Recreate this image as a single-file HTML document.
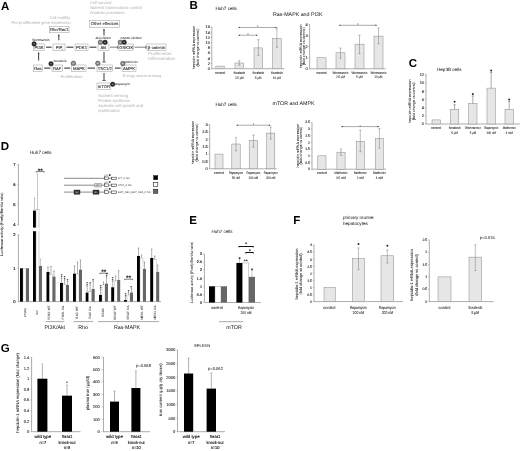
<!DOCTYPE html>
<html lang="en">
<head>
<meta charset="utf-8">
<title>Figure</title>
<style>
html,body{margin:0;padding:0;background:#fff;}
body{width:520px;height:451px;overflow:hidden;}
svg{display:block;font-family:"Liberation Sans", sans-serif;filter:blur(0.35px);}
svg text{text-rendering:geometricPrecision;}
</style>
</head>
<body>
<svg width="520" height="451" viewBox="0 0 520 451">
<rect x="0" y="0" width="520" height="451" fill="#ffffff"/>
<text x="0.9" y="10.0" font-size="11.5" text-anchor="start" fill="#000" font-weight="bold" font-style="normal">A</text>
<text x="189.6" y="9.4" font-size="11.5" text-anchor="start" fill="#000" font-weight="bold" font-style="normal">B</text>
<text x="408.8" y="66.9" font-size="11.5" text-anchor="start" fill="#000" font-weight="bold" font-style="normal">C</text>
<text x="0.8" y="149.8" font-size="11.5" text-anchor="start" fill="#000" font-weight="bold" font-style="normal">D</text>
<text x="189.3" y="224.2" font-size="11.5" text-anchor="start" fill="#000" font-weight="bold" font-style="normal">E</text>
<text x="293.2" y="224.4" font-size="11.5" text-anchor="start" fill="#000" font-weight="bold" font-style="normal">F</text>
<text x="0.8" y="352.4" font-size="11.5" text-anchor="start" fill="#000" font-weight="bold" font-style="normal">G</text>
<text x="89.9" y="3.9" font-size="4.0" text-anchor="start" fill="#b0b0b0" font-weight="normal" font-style="normal">Cell survival</text>
<text x="89.9" y="9.1" font-size="4.1" text-anchor="start" fill="#b0b0b0" font-weight="normal" font-style="normal">Nutrient homeostasis control</text>
<text x="89.9" y="14.1" font-size="4.0" text-anchor="start" fill="#b0b0b0" font-weight="normal" font-style="normal">Anabolic processes</text>
<text x="70.2" y="18.6" font-size="4.05" text-anchor="end" fill="#b0b0b0" font-weight="normal" font-style="normal">Cell motility</text>
<text x="70.8" y="23.6" font-size="4.05" text-anchor="end" fill="#b0b0b0" font-weight="normal" font-style="normal">Pro-proliferative gene expression</text>
<text x="148" y="55.2" font-size="4.4" text-anchor="start" fill="#b0b0b0" font-weight="normal" font-style="normal">Proliferation</text>
<text x="148" y="60.4" font-size="4.4" text-anchor="start" fill="#b0b0b0" font-weight="normal" font-style="normal">Differentiation</text>
<text x="60.4" y="77.5" font-size="4.15" text-anchor="start" fill="#b0b0b0" font-weight="normal" font-style="normal">Proliferation</text>
<text x="122.8" y="76.5" font-size="3.9" text-anchor="start" fill="#b0b0b0" font-weight="normal" font-style="normal">Energy status sensing</text>
<text x="98.2" y="96.5" font-size="4.15" text-anchor="start" fill="#b0b0b0" font-weight="normal" font-style="normal">Nutrient sensing</text>
<text x="98.2" y="101.7" font-size="4.15" text-anchor="start" fill="#b0b0b0" font-weight="normal" font-style="normal">Protein synthesis</text>
<text x="98.2" y="106.9" font-size="4.15" text-anchor="start" fill="#b0b0b0" font-weight="normal" font-style="normal">Anabolic cell growth and</text>
<text x="98.2" y="112.1" font-size="4.15" text-anchor="start" fill="#b0b0b0" font-weight="normal" font-style="normal">proliferation</text>
<rect x="49.40" y="26.60" width="19.60" height="6.20" fill="#fff" stroke="#8c8c8c" stroke-width="0.45"/>
<text x="59.2" y="31.212" font-size="4.2" text-anchor="middle" fill="#333" font-weight="normal" font-style="normal" stroke="#333" stroke-width="0.1">Rho/Rac1</text>
<rect x="89.70" y="20.60" width="29.80" height="6.60" fill="#fff" stroke="#8c8c8c" stroke-width="0.45"/>
<text x="104.6" y="25.412" font-size="4.2" text-anchor="middle" fill="#333" font-weight="normal" font-style="normal" stroke="#333" stroke-width="0.1">Other effectors</text>
<rect x="33.60" y="44.00" width="10.80" height="6.40" fill="#fff" stroke="#8c8c8c" stroke-width="0.45"/>
<text x="39.0" y="48.712" font-size="4.2" text-anchor="middle" fill="#333" font-weight="normal" font-style="normal" stroke="#333" stroke-width="0.1">PI3K</text>
<rect x="53.00" y="44.00" width="12.00" height="6.40" fill="#fff" stroke="#8c8c8c" stroke-width="0.45"/>
<text x="59.0" y="48.712" font-size="4.2" text-anchor="middle" fill="#333" font-weight="normal" font-style="normal" stroke="#333" stroke-width="0.1">PIP</text>
<text x="62.2" y="49.6" font-size="2.4" text-anchor="middle" fill="#444" font-weight="normal" font-style="normal">3</text>
<rect x="75.00" y="44.00" width="13.00" height="6.40" fill="#fff" stroke="#8c8c8c" stroke-width="0.45"/>
<text x="81.5" y="48.712" font-size="4.2" text-anchor="middle" fill="#333" font-weight="normal" font-style="normal" stroke="#333" stroke-width="0.1">PDK1</text>
<rect x="98.00" y="44.00" width="11.00" height="6.40" fill="#fff" stroke="#8c8c8c" stroke-width="0.45"/>
<text x="103.5" y="48.712" font-size="4.2" text-anchor="middle" fill="#333" font-weight="normal" font-style="normal" stroke="#333" stroke-width="0.1">Akt</text>
<rect x="118.80" y="44.00" width="14.80" height="6.40" fill="#fff" stroke="#8c8c8c" stroke-width="0.45"/>
<text x="126.19999999999999" y="48.712" font-size="4.2" text-anchor="middle" fill="#333" font-weight="normal" font-style="normal" stroke="#333" stroke-width="0.1">GSK3K</text>
<rect x="147.00" y="44.00" width="19.00" height="6.40" fill="#fff" stroke="#8c8c8c" stroke-width="0.45"/>
<text x="156.5" y="48.712" font-size="4.2" text-anchor="middle" fill="#333" font-weight="normal" font-style="normal" stroke="#333" stroke-width="0.1">β-catenin</text>
<rect x="33.40" y="65.00" width="9.10" height="6.20" fill="#fff" stroke="#8c8c8c" stroke-width="0.45"/>
<text x="37.95" y="69.612" font-size="4.2" text-anchor="middle" fill="#333" font-weight="normal" font-style="normal" stroke="#333" stroke-width="0.1">Ras</text>
<rect x="52.00" y="65.00" width="10.40" height="6.20" fill="#fff" stroke="#8c8c8c" stroke-width="0.45"/>
<text x="57.2" y="69.612" font-size="4.2" text-anchor="middle" fill="#333" font-weight="normal" font-style="normal" stroke="#333" stroke-width="0.1">RAF</text>
<rect x="71.70" y="65.00" width="14.30" height="6.20" fill="#fff" stroke="#8c8c8c" stroke-width="0.45"/>
<text x="78.85" y="69.612" font-size="4.2" text-anchor="middle" fill="#333" font-weight="normal" font-style="normal" stroke="#333" stroke-width="0.1">MAPK</text>
<rect x="97.00" y="65.00" width="15.60" height="6.20" fill="#fff" stroke="#8c8c8c" stroke-width="0.45"/>
<text x="104.8" y="69.612" font-size="4.2" text-anchor="middle" fill="#333" font-weight="normal" font-style="normal" stroke="#333" stroke-width="0.1">TSC1/2</text>
<rect x="122.00" y="65.00" width="14.00" height="6.20" fill="#fff" stroke="#8c8c8c" stroke-width="0.45"/>
<text x="129.0" y="69.612" font-size="4.2" text-anchor="middle" fill="#333" font-weight="normal" font-style="normal" stroke="#333" stroke-width="0.1">AMPK</text>
<rect x="97.00" y="83.00" width="13.80" height="6.20" fill="#fff" stroke="#8c8c8c" stroke-width="0.45"/>
<text x="103.9" y="87.612" font-size="4.2" text-anchor="middle" fill="#333" font-weight="normal" font-style="normal" stroke="#333" stroke-width="0.1">mTOR</text>
<line x1="46" y1="47.2" x2="51.6" y2="47.2" stroke="#4a4a4a" stroke-width="1.2"/>
<line x1="66.6" y1="47.2" x2="73.4" y2="47.2" stroke="#4a4a4a" stroke-width="1.2"/>
<line x1="89.6" y1="47.2" x2="96.4" y2="47.2" stroke="#4a4a4a" stroke-width="1.2"/>
<line x1="110" y1="47.2" x2="117.8" y2="47.2" stroke="#4a4a4a" stroke-width="0.7"/>
<line x1="117.8" y1="45.6" x2="117.8" y2="48.800000000000004" stroke="#4a4a4a" stroke-width="0.8"/>
<line x1="134.6" y1="47.2" x2="146" y2="47.2" stroke="#4a4a4a" stroke-width="0.7"/>
<line x1="146" y1="45.6" x2="146" y2="48.800000000000004" stroke="#4a4a4a" stroke-width="0.8"/>
<line x1="44.2" y1="68.1" x2="50.4" y2="68.1" stroke="#4a4a4a" stroke-width="1.2"/>
<line x1="64.2" y1="68.1" x2="70.2" y2="68.1" stroke="#4a4a4a" stroke-width="1.2"/>
<line x1="87.6" y1="68.1" x2="95" y2="68.1" stroke="#4a4a4a" stroke-width="1.2"/>
<line x1="120.6" y1="68.1" x2="115" y2="68.1" stroke="#4a4a4a" stroke-width="1.2"/>
<line x1="58.8" y1="40.2" x2="58.8" y2="34.6" stroke="#4a4a4a" stroke-width="1.1"/>
<path d="M58.8 34.6 l-1 1.6 h2 z" fill="#4a4a4a"/>
<line x1="104" y1="35.5" x2="104" y2="29" stroke="#4a4a4a" stroke-width="1.1"/>
<path d="M104 29 l-1 1.6 h2 z" fill="#4a4a4a"/>
<line x1="38.6" y1="60.6" x2="38.6" y2="52.4" stroke="#4a4a4a" stroke-width="1.1"/>
<path d="M38.6 52.4 l-1 1.6 h2 z" fill="#4a4a4a"/>
<line x1="104" y1="52" x2="104" y2="62" stroke="#4a4a4a" stroke-width="1.1"/>
<line x1="102.3" y1="62" x2="105.7" y2="62" stroke="#4a4a4a" stroke-width="0.8"/>
<line x1="104" y1="73" x2="104" y2="80.5" stroke="#4a4a4a" stroke-width="1.1"/>
<line x1="102.3" y1="80.5" x2="105.7" y2="80.5" stroke="#4a4a4a" stroke-width="0.8"/>
<circle cx="34.1" cy="43.9" r="2.3" fill="#222" stroke="#222" stroke-width="0.4"/>
<line x1="33.1" y1="43.9" x2="35.1" y2="43.9" stroke="#fff" stroke-width="0.5"/>
<circle cx="51" cy="63.8" r="2.3" fill="#222" stroke="#222" stroke-width="0.4"/>
<line x1="50" y1="63.8" x2="52" y2="63.8" stroke="#fff" stroke-width="0.5"/>
<circle cx="73.4" cy="63.3" r="2.3" fill="#888" stroke="#222" stroke-width="0.4"/>
<line x1="72.4" y1="63.3" x2="74.4" y2="63.3" stroke="#fff" stroke-width="0.5"/>
<circle cx="97.8" cy="63.3" r="2.3" fill="#888" stroke="#222" stroke-width="0.4"/>
<line x1="96.8" y1="63.3" x2="98.8" y2="63.3" stroke="#fff" stroke-width="0.5"/>
<circle cx="100.4" cy="42.3" r="2.3" fill="#888" stroke="#222" stroke-width="0.4"/>
<line x1="99.4" y1="42.3" x2="101.4" y2="42.3" stroke="#fff" stroke-width="0.5"/>
<circle cx="105.1" cy="42.3" r="2.3" fill="#222" stroke="#222" stroke-width="0.4"/>
<line x1="104.1" y1="42.3" x2="106.1" y2="42.3" stroke="#fff" stroke-width="0.5"/>
<circle cx="120.3" cy="42.3" r="2.3" fill="#888" stroke="#222" stroke-width="0.4"/>
<line x1="119.3" y1="42.3" x2="121.3" y2="42.3" stroke="#fff" stroke-width="0.5"/>
<circle cx="124.2" cy="42.3" r="2.3" fill="#222" stroke="#222" stroke-width="0.4"/>
<line x1="123.2" y1="42.3" x2="125.2" y2="42.3" stroke="#fff" stroke-width="0.5"/>
<circle cx="122.8" cy="63.6" r="2.3" fill="#888" stroke="#222" stroke-width="0.4"/>
<line x1="121.8" y1="63.6" x2="123.8" y2="63.6" stroke="#fff" stroke-width="0.5"/>
<circle cx="112.7" cy="84.3" r="2.3" fill="#222" stroke="#222" stroke-width="0.4"/>
<line x1="111.7" y1="84.3" x2="113.7" y2="84.3" stroke="#fff" stroke-width="0.5"/>
<text x="32.3" y="41.2" font-size="3.2" text-anchor="start" fill="#333" font-weight="normal" font-style="normal" stroke="#333" stroke-width="0.04">Wortmannin</text>
<text x="95.4" y="39.4" font-size="3.0" text-anchor="start" fill="#333" font-weight="normal" font-style="normal" stroke="#333" stroke-width="0.04">Akt inhibitor</text>
<text x="120.4" y="39.4" font-size="3.0" text-anchor="start" fill="#333" font-weight="normal" font-style="normal" stroke="#333" stroke-width="0.04">GSK3K inhibitor</text>
<text x="53.5" y="62.4" font-size="3.0" text-anchor="start" fill="#333" font-weight="normal" font-style="normal" stroke="#333" stroke-width="0.04">Sorafenib</text>
<text x="124.4" y="62.6" font-size="3.0" text-anchor="start" fill="#333" font-weight="normal" font-style="normal" stroke="#333" stroke-width="0.04">Metformin</text>
<text x="115.2" y="85.3" font-size="3.0" text-anchor="start" fill="#333" font-weight="normal" font-style="normal" stroke="#333" stroke-width="0.04">Rapamycin</text>
<text x="215.4" y="9.8" font-size="4.6" text-anchor="start" fill="#222" font-weight="normal" font-style="normal" stroke="#222" stroke-width="0.03">Huh7 cells</text>
<text x="273" y="16.2" font-size="5.3" text-anchor="start" fill="#222" font-weight="normal" font-style="normal" stroke="#222" stroke-width="0.02">Ras-MAPK and PI3K</text>
<text x="215.4" y="105.6" font-size="4.6" text-anchor="start" fill="#222" font-weight="normal" font-style="normal" stroke="#222" stroke-width="0.03">Huh7 cells</text>
<text x="272.5" y="105.2" font-size="5.3" text-anchor="start" fill="#222" font-weight="normal" font-style="normal" stroke="#222" stroke-width="0.02">mTOR and AMPK</text>
<line x1="211.8" y1="26.6" x2="211.8" y2="68.7" stroke="#777" stroke-width="0.6"/>
<line x1="210.60000000000002" y1="68.7" x2="211.8" y2="68.7" stroke="#777" stroke-width="0.4"/>
<text x="209.8" y="70.065" font-size="3.9" text-anchor="end" fill="#222" font-weight="normal" font-style="normal" stroke="#222" stroke-width="0.1">0</text>
<line x1="210.60000000000002" y1="63.5" x2="211.8" y2="63.5" stroke="#777" stroke-width="0.4"/>
<text x="209.8" y="64.865" font-size="3.9" text-anchor="end" fill="#222" font-weight="normal" font-style="normal" stroke="#222" stroke-width="0.1">2</text>
<line x1="210.60000000000002" y1="58.300000000000004" x2="211.8" y2="58.300000000000004" stroke="#777" stroke-width="0.4"/>
<text x="209.8" y="59.665000000000006" font-size="3.9" text-anchor="end" fill="#222" font-weight="normal" font-style="normal" stroke="#222" stroke-width="0.1">4</text>
<line x1="210.60000000000002" y1="53.1" x2="211.8" y2="53.1" stroke="#777" stroke-width="0.4"/>
<text x="209.8" y="54.465" font-size="3.9" text-anchor="end" fill="#222" font-weight="normal" font-style="normal" stroke="#222" stroke-width="0.1">6</text>
<line x1="210.60000000000002" y1="47.900000000000006" x2="211.8" y2="47.900000000000006" stroke="#777" stroke-width="0.4"/>
<text x="209.8" y="49.26500000000001" font-size="3.9" text-anchor="end" fill="#222" font-weight="normal" font-style="normal" stroke="#222" stroke-width="0.1">8</text>
<line x1="210.60000000000002" y1="42.7" x2="211.8" y2="42.7" stroke="#777" stroke-width="0.4"/>
<text x="209.8" y="44.065000000000005" font-size="3.9" text-anchor="end" fill="#222" font-weight="normal" font-style="normal" stroke="#222" stroke-width="0.1">10</text>
<line x1="210.60000000000002" y1="37.5" x2="211.8" y2="37.5" stroke="#777" stroke-width="0.4"/>
<text x="209.8" y="38.865" font-size="3.9" text-anchor="end" fill="#222" font-weight="normal" font-style="normal" stroke="#222" stroke-width="0.1">12</text>
<line x1="210.60000000000002" y1="32.300000000000004" x2="211.8" y2="32.300000000000004" stroke="#777" stroke-width="0.4"/>
<text x="209.8" y="33.665000000000006" font-size="3.9" text-anchor="end" fill="#222" font-weight="normal" font-style="normal" stroke="#222" stroke-width="0.1">14</text>
<line x1="210.60000000000002" y1="27.1" x2="211.8" y2="27.1" stroke="#777" stroke-width="0.4"/>
<text x="209.8" y="28.465" font-size="3.9" text-anchor="end" fill="#222" font-weight="normal" font-style="normal" stroke="#222" stroke-width="0.1">16</text>
<line x1="211.8" y1="68.7" x2="284.6" y2="68.7" stroke="#777" stroke-width="0.6"/>
<rect x="215.80" y="66.10" width="8.80" height="2.60" fill="#e6e6e6" stroke="#888" stroke-width="0.5"/>
<rect x="235.00" y="62.98" width="8.60" height="5.72" fill="#e6e6e6" stroke="#888" stroke-width="0.5"/>
<line x1="239.3" y1="60.7" x2="239.3" y2="65.3" stroke="#666" stroke-width="0.42"/>
<line x1="238.20000000000002" y1="60.7" x2="240.4" y2="60.7" stroke="#666" stroke-width="0.42"/>
<line x1="238.20000000000002" y1="65.3" x2="240.4" y2="65.3" stroke="#666" stroke-width="0.42"/>
<rect x="254.00" y="47.90" width="8.70" height="20.80" fill="#e6e6e6" stroke="#888" stroke-width="0.5"/>
<line x1="258.35" y1="39.7" x2="258.35" y2="55.4" stroke="#666" stroke-width="0.42"/>
<line x1="257.25" y1="39.7" x2="259.45000000000005" y2="39.7" stroke="#666" stroke-width="0.42"/>
<line x1="257.25" y1="55.4" x2="259.45000000000005" y2="55.4" stroke="#666" stroke-width="0.42"/>
<rect x="272.60" y="38.54" width="8.60" height="30.16" fill="#e6e6e6" stroke="#888" stroke-width="0.5"/>
<line x1="276.9" y1="28.8" x2="276.9" y2="47.3" stroke="#666" stroke-width="0.42"/>
<line x1="275.79999999999995" y1="28.8" x2="278.0" y2="28.8" stroke="#666" stroke-width="0.42"/>
<line x1="275.79999999999995" y1="47.3" x2="278.0" y2="47.3" stroke="#666" stroke-width="0.42"/>
<line x1="238.8" y1="27.5" x2="276.4" y2="27.5" stroke="#555" stroke-width="0.5"/>
<path d="M238.0 27.5 l1.8 -0.8 v1.6 z M277.2 27.5 l-1.8 -0.8 v1.6 z" fill="#444"/>
<text x="257.6" y="28.4" font-size="3.6" text-anchor="middle" fill="#444" font-weight="normal" font-style="normal" stroke="#444" stroke-width="0.05">*</text>
<line x1="238.8" y1="35.2" x2="257.0" y2="35.2" stroke="#555" stroke-width="0.5"/>
<path d="M238.0 35.2 l1.8 -0.8 v1.6 z M257.8 35.2 l-1.8 -0.8 v1.6 z" fill="#444"/>
<text x="247.9" y="36.1" font-size="3.6" text-anchor="middle" fill="#444" font-weight="normal" font-style="normal" stroke="#444" stroke-width="0.05">*</text>
<text x="220.2" y="74.2" font-size="3.5" text-anchor="middle" fill="#222" font-weight="normal" font-style="normal" stroke="#222" stroke-width="0.06" textLength="9.98" lengthAdjust="spacingAndGlyphs">control</text>
<text x="239.3" y="74.2" font-size="3.5" text-anchor="middle" fill="#222" font-weight="normal" font-style="normal" stroke="#222" stroke-width="0.06" textLength="11.69" lengthAdjust="spacingAndGlyphs">Sorafenib</text>
<text x="239.3" y="78.60000000000001" font-size="3.5" text-anchor="middle" fill="#222" font-weight="normal" font-style="normal" stroke="#222" stroke-width="0.06" textLength="8.83" lengthAdjust="spacingAndGlyphs">2.5 µM</text>
<text x="258.3" y="74.2" font-size="3.5" text-anchor="middle" fill="#222" font-weight="normal" font-style="normal" stroke="#222" stroke-width="0.06" textLength="11.69" lengthAdjust="spacingAndGlyphs">Sorafenib</text>
<text x="258.3" y="78.60000000000001" font-size="3.5" text-anchor="middle" fill="#222" font-weight="normal" font-style="normal" stroke="#222" stroke-width="0.06" textLength="6.44" lengthAdjust="spacingAndGlyphs">5 µM</text>
<text x="276.9" y="74.2" font-size="3.5" text-anchor="middle" fill="#222" font-weight="normal" font-style="normal" stroke="#222" stroke-width="0.06" textLength="11.69" lengthAdjust="spacingAndGlyphs">Sorafenib</text>
<text x="276.9" y="78.60000000000001" font-size="3.5" text-anchor="middle" fill="#222" font-weight="normal" font-style="normal" stroke="#222" stroke-width="0.06" textLength="8.03" lengthAdjust="spacingAndGlyphs">10 µM</text>
<text x="195.2" y="47.5" font-size="3.65" text-anchor="middle" fill="#222" font-weight="normal" font-style="normal" stroke="#222" stroke-width="0.06" transform="rotate(-90 195.2 47.5)">hepcidin mRNA expression</text>
<text x="199.4" y="47.5" font-size="3.65" text-anchor="middle" fill="#222" font-weight="normal" font-style="normal" stroke="#222" stroke-width="0.06" transform="rotate(-90 199.4 47.5)">(fold change vs control)</text>
<line x1="309.6" y1="24.2" x2="309.6" y2="68.8" stroke="#777" stroke-width="0.6"/>
<line x1="308.40000000000003" y1="68.8" x2="309.6" y2="68.8" stroke="#777" stroke-width="0.4"/>
<text x="307.6" y="70.16499999999999" font-size="3.9" text-anchor="end" fill="#222" font-weight="normal" font-style="normal" stroke="#222" stroke-width="0.1">0</text>
<line x1="308.40000000000003" y1="57.75" x2="309.6" y2="57.75" stroke="#777" stroke-width="0.4"/>
<text x="307.6" y="59.115" font-size="3.9" text-anchor="end" fill="#222" font-weight="normal" font-style="normal" stroke="#222" stroke-width="0.1">1</text>
<line x1="308.40000000000003" y1="46.699999999999996" x2="309.6" y2="46.699999999999996" stroke="#777" stroke-width="0.4"/>
<text x="307.6" y="48.065" font-size="3.9" text-anchor="end" fill="#222" font-weight="normal" font-style="normal" stroke="#222" stroke-width="0.1">2</text>
<line x1="308.40000000000003" y1="35.64999999999999" x2="309.6" y2="35.64999999999999" stroke="#777" stroke-width="0.4"/>
<text x="307.6" y="37.01499999999999" font-size="3.9" text-anchor="end" fill="#222" font-weight="normal" font-style="normal" stroke="#222" stroke-width="0.1">3</text>
<line x1="308.40000000000003" y1="24.599999999999994" x2="309.6" y2="24.599999999999994" stroke="#777" stroke-width="0.4"/>
<text x="307.6" y="25.964999999999993" font-size="3.9" text-anchor="end" fill="#222" font-weight="normal" font-style="normal" stroke="#222" stroke-width="0.1">4</text>
<line x1="309.6" y1="68.8" x2="385.6" y2="68.8" stroke="#777" stroke-width="0.6"/>
<rect x="317.00" y="57.75" width="9.00" height="11.05" fill="#e6e6e6" stroke="#888" stroke-width="0.5"/>
<rect x="336.00" y="52.78" width="9.00" height="16.02" fill="#e6e6e6" stroke="#888" stroke-width="0.5"/>
<line x1="340.5" y1="48" x2="340.5" y2="58.3" stroke="#666" stroke-width="0.42"/>
<line x1="339.4" y1="48" x2="341.6" y2="48" stroke="#666" stroke-width="0.42"/>
<line x1="339.4" y1="58.3" x2="341.6" y2="58.3" stroke="#666" stroke-width="0.42"/>
<rect x="355.00" y="44.16" width="9.00" height="24.64" fill="#e6e6e6" stroke="#888" stroke-width="0.5"/>
<line x1="359.5" y1="35.2" x2="359.5" y2="53.5" stroke="#666" stroke-width="0.42"/>
<line x1="358.4" y1="35.2" x2="360.6" y2="35.2" stroke="#666" stroke-width="0.42"/>
<line x1="358.4" y1="53.5" x2="360.6" y2="53.5" stroke="#666" stroke-width="0.42"/>
<rect x="374.00" y="36.09" width="9.00" height="32.71" fill="#e6e6e6" stroke="#888" stroke-width="0.5"/>
<line x1="378.5" y1="28" x2="378.5" y2="43.8" stroke="#666" stroke-width="0.42"/>
<line x1="377.4" y1="28" x2="379.6" y2="28" stroke="#666" stroke-width="0.42"/>
<line x1="377.4" y1="43.8" x2="379.6" y2="43.8" stroke="#666" stroke-width="0.42"/>
<line x1="339.40000000000003" y1="25.3" x2="376.4" y2="25.3" stroke="#555" stroke-width="0.5"/>
<path d="M338.6 25.3 l1.8 -0.8 v1.6 z M377.2 25.3 l-1.8 -0.8 v1.6 z" fill="#444"/>
<text x="357.9" y="26.2" font-size="3.6" text-anchor="middle" fill="#444" font-weight="normal" font-style="normal" stroke="#444" stroke-width="0.05">*</text>
<text x="321.5" y="74.0" font-size="3.5" text-anchor="middle" fill="#222" font-weight="normal" font-style="normal" stroke="#222" stroke-width="0.06" textLength="9.98" lengthAdjust="spacingAndGlyphs">control</text>
<text x="340.5" y="74.0" font-size="3.5" text-anchor="middle" fill="#222" font-weight="normal" font-style="normal" stroke="#222" stroke-width="0.06" textLength="15.80" lengthAdjust="spacingAndGlyphs">Wortmannin</text>
<text x="340.5" y="78.4" font-size="3.5" text-anchor="middle" fill="#222" font-weight="normal" font-style="normal" stroke="#222" stroke-width="0.06" textLength="8.83" lengthAdjust="spacingAndGlyphs">2.5 µM</text>
<text x="359.5" y="74.0" font-size="3.5" text-anchor="middle" fill="#222" font-weight="normal" font-style="normal" stroke="#222" stroke-width="0.06" textLength="15.80" lengthAdjust="spacingAndGlyphs">Wortmannin</text>
<text x="359.5" y="78.4" font-size="3.5" text-anchor="middle" fill="#222" font-weight="normal" font-style="normal" stroke="#222" stroke-width="0.06" textLength="6.44" lengthAdjust="spacingAndGlyphs">5 µM</text>
<text x="378.5" y="74.0" font-size="3.5" text-anchor="middle" fill="#222" font-weight="normal" font-style="normal" stroke="#222" stroke-width="0.06" textLength="15.80" lengthAdjust="spacingAndGlyphs">Wortmannin</text>
<text x="378.5" y="78.4" font-size="3.5" text-anchor="middle" fill="#222" font-weight="normal" font-style="normal" stroke="#222" stroke-width="0.06" textLength="8.03" lengthAdjust="spacingAndGlyphs">10 µM</text>
<text x="301.8" y="46.3" font-size="3.65" text-anchor="middle" fill="#222" font-weight="normal" font-style="normal" stroke="#222" stroke-width="0.06" transform="rotate(-90 301.8 46.3)">hepcidin mRNA expression</text>
<text x="305.2" y="46.3" font-size="3.65" text-anchor="middle" fill="#222" font-weight="normal" font-style="normal" stroke="#222" stroke-width="0.06" transform="rotate(-90 305.2 46.3)">(fold change vs control)</text>
<line x1="209.7" y1="124.3" x2="209.7" y2="168.8" stroke="#777" stroke-width="0.6"/>
<line x1="208.5" y1="168.8" x2="209.7" y2="168.8" stroke="#777" stroke-width="0.4"/>
<text x="207.7" y="170.16500000000002" font-size="3.9" text-anchor="end" fill="#222" font-weight="normal" font-style="normal" stroke="#222" stroke-width="0.1">0</text>
<line x1="208.5" y1="161.425" x2="209.7" y2="161.425" stroke="#777" stroke-width="0.4"/>
<text x="207.7" y="162.79000000000002" font-size="3.9" text-anchor="end" fill="#222" font-weight="normal" font-style="normal" stroke="#222" stroke-width="0.1">0.5</text>
<line x1="208.5" y1="154.05" x2="209.7" y2="154.05" stroke="#777" stroke-width="0.4"/>
<text x="207.7" y="155.41500000000002" font-size="3.9" text-anchor="end" fill="#222" font-weight="normal" font-style="normal" stroke="#222" stroke-width="0.1">1</text>
<line x1="208.5" y1="146.675" x2="209.7" y2="146.675" stroke="#777" stroke-width="0.4"/>
<text x="207.7" y="148.04000000000002" font-size="3.9" text-anchor="end" fill="#222" font-weight="normal" font-style="normal" stroke="#222" stroke-width="0.1">1.5</text>
<line x1="208.5" y1="139.3" x2="209.7" y2="139.3" stroke="#777" stroke-width="0.4"/>
<text x="207.7" y="140.66500000000002" font-size="3.9" text-anchor="end" fill="#222" font-weight="normal" font-style="normal" stroke="#222" stroke-width="0.1">2</text>
<line x1="208.5" y1="131.925" x2="209.7" y2="131.925" stroke="#777" stroke-width="0.4"/>
<text x="207.7" y="133.29000000000002" font-size="3.9" text-anchor="end" fill="#222" font-weight="normal" font-style="normal" stroke="#222" stroke-width="0.1">2.5</text>
<line x1="208.5" y1="124.55000000000001" x2="209.7" y2="124.55000000000001" stroke="#777" stroke-width="0.4"/>
<text x="207.7" y="125.915" font-size="3.9" text-anchor="end" fill="#222" font-weight="normal" font-style="normal" stroke="#222" stroke-width="0.1">3</text>
<line x1="209.7" y1="168.8" x2="276.7" y2="168.8" stroke="#777" stroke-width="0.6"/>
<rect x="215.00" y="154.05" width="8.00" height="14.75" fill="#e6e6e6" stroke="#888" stroke-width="0.5"/>
<rect x="231.80" y="144.02" width="8.40" height="24.78" fill="#e6e6e6" stroke="#888" stroke-width="0.5"/>
<line x1="236.0" y1="137.7" x2="236.0" y2="150.8" stroke="#666" stroke-width="0.42"/>
<line x1="234.9" y1="137.7" x2="237.1" y2="137.7" stroke="#666" stroke-width="0.42"/>
<line x1="234.9" y1="150.8" x2="237.1" y2="150.8" stroke="#666" stroke-width="0.42"/>
<rect x="249.20" y="140.48" width="8.50" height="28.32" fill="#e6e6e6" stroke="#888" stroke-width="0.5"/>
<line x1="253.45" y1="135" x2="253.45" y2="147" stroke="#666" stroke-width="0.42"/>
<line x1="252.35" y1="135" x2="254.54999999999998" y2="135" stroke="#666" stroke-width="0.42"/>
<line x1="252.35" y1="147" x2="254.54999999999998" y2="147" stroke="#666" stroke-width="0.42"/>
<rect x="266.60" y="133.11" width="8.20" height="35.69" fill="#e6e6e6" stroke="#888" stroke-width="0.5"/>
<line x1="270.70000000000005" y1="127" x2="270.70000000000005" y2="139" stroke="#666" stroke-width="0.42"/>
<line x1="269.6" y1="127" x2="271.80000000000007" y2="127" stroke="#666" stroke-width="0.42"/>
<line x1="269.6" y1="139" x2="271.80000000000007" y2="139" stroke="#666" stroke-width="0.42"/>
<line x1="236.8" y1="125.2" x2="269.9" y2="125.2" stroke="#555" stroke-width="0.5"/>
<path d="M236 125.2 l1.8 -0.8 v1.6 z M270.7 125.2 l-1.8 -0.8 v1.6 z" fill="#444"/>
<text x="253.35" y="126.10000000000001" font-size="3.6" text-anchor="middle" fill="#444" font-weight="normal" font-style="normal" stroke="#444" stroke-width="0.05">*</text>
<text x="219" y="174.2" font-size="3.5" text-anchor="middle" fill="#222" font-weight="normal" font-style="normal" stroke="#222" stroke-width="0.06" textLength="9.98" lengthAdjust="spacingAndGlyphs">control</text>
<text x="236" y="174.2" font-size="3.5" text-anchor="middle" fill="#222" font-weight="normal" font-style="normal" stroke="#222" stroke-width="0.06" textLength="14.01" lengthAdjust="spacingAndGlyphs">Rapamycin</text>
<text x="236" y="178.6" font-size="3.5" text-anchor="middle" fill="#222" font-weight="normal" font-style="normal" stroke="#222" stroke-width="0.06" textLength="7.98" lengthAdjust="spacingAndGlyphs">50 nM</text>
<text x="253.4" y="174.2" font-size="3.5" text-anchor="middle" fill="#222" font-weight="normal" font-style="normal" stroke="#222" stroke-width="0.06" textLength="14.01" lengthAdjust="spacingAndGlyphs">Rapamycin</text>
<text x="253.4" y="178.6" font-size="3.5" text-anchor="middle" fill="#222" font-weight="normal" font-style="normal" stroke="#222" stroke-width="0.06" textLength="9.57" lengthAdjust="spacingAndGlyphs">100 nM</text>
<text x="270.7" y="174.2" font-size="3.5" text-anchor="middle" fill="#222" font-weight="normal" font-style="normal" stroke="#222" stroke-width="0.06" textLength="14.01" lengthAdjust="spacingAndGlyphs">Rapamycin</text>
<text x="270.7" y="178.6" font-size="3.5" text-anchor="middle" fill="#222" font-weight="normal" font-style="normal" stroke="#222" stroke-width="0.06" textLength="9.57" lengthAdjust="spacingAndGlyphs">200 nM</text>
<text x="194" y="142.5" font-size="3.65" text-anchor="middle" fill="#222" font-weight="normal" font-style="normal" stroke="#222" stroke-width="0.06" transform="rotate(-90 194 142.5)">hepcidin mRNA expression</text>
<text x="197.6" y="142.5" font-size="3.65" text-anchor="middle" fill="#222" font-weight="normal" font-style="normal" stroke="#222" stroke-width="0.06" transform="rotate(-90 197.6 142.5)">(fold change vs control)</text>
<line x1="312" y1="122.2" x2="312" y2="169.2" stroke="#777" stroke-width="0.6"/>
<line x1="310.8" y1="169.2" x2="312" y2="169.2" stroke="#777" stroke-width="0.4"/>
<text x="310.0" y="170.39" font-size="3.4" text-anchor="end" fill="#222" font-weight="normal" font-style="normal" stroke="#222" stroke-width="0.1">0</text>
<line x1="310.8" y1="162.5" x2="312" y2="162.5" stroke="#777" stroke-width="0.4"/>
<text x="310.0" y="163.69" font-size="3.4" text-anchor="end" fill="#222" font-weight="normal" font-style="normal" stroke="#222" stroke-width="0.1">0.5</text>
<line x1="310.8" y1="155.79999999999998" x2="312" y2="155.79999999999998" stroke="#777" stroke-width="0.4"/>
<text x="310.0" y="156.98999999999998" font-size="3.4" text-anchor="end" fill="#222" font-weight="normal" font-style="normal" stroke="#222" stroke-width="0.1">1</text>
<line x1="310.8" y1="149.1" x2="312" y2="149.1" stroke="#777" stroke-width="0.4"/>
<text x="310.0" y="150.29" font-size="3.4" text-anchor="end" fill="#222" font-weight="normal" font-style="normal" stroke="#222" stroke-width="0.1">1.5</text>
<line x1="310.8" y1="142.39999999999998" x2="312" y2="142.39999999999998" stroke="#777" stroke-width="0.4"/>
<text x="310.0" y="143.58999999999997" font-size="3.4" text-anchor="end" fill="#222" font-weight="normal" font-style="normal" stroke="#222" stroke-width="0.1">2</text>
<line x1="310.8" y1="135.7" x2="312" y2="135.7" stroke="#777" stroke-width="0.4"/>
<text x="310.0" y="136.89" font-size="3.4" text-anchor="end" fill="#222" font-weight="normal" font-style="normal" stroke="#222" stroke-width="0.1">2.5</text>
<line x1="310.8" y1="129.0" x2="312" y2="129.0" stroke="#777" stroke-width="0.4"/>
<text x="310.0" y="130.19" font-size="3.4" text-anchor="end" fill="#222" font-weight="normal" font-style="normal" stroke="#222" stroke-width="0.1">3</text>
<line x1="310.8" y1="122.29999999999998" x2="312" y2="122.29999999999998" stroke="#777" stroke-width="0.4"/>
<text x="310.0" y="123.48999999999998" font-size="3.4" text-anchor="end" fill="#222" font-weight="normal" font-style="normal" stroke="#222" stroke-width="0.1">3.5</text>
<line x1="312" y1="169.2" x2="386" y2="169.2" stroke="#777" stroke-width="0.6"/>
<rect x="317.80" y="155.80" width="8.20" height="13.40" fill="#e6e6e6" stroke="#888" stroke-width="0.5"/>
<rect x="336.90" y="152.18" width="8.20" height="17.02" fill="#e6e6e6" stroke="#888" stroke-width="0.5"/>
<line x1="341.0" y1="149" x2="341.0" y2="155.4" stroke="#666" stroke-width="0.42"/>
<line x1="339.9" y1="149" x2="342.1" y2="149" stroke="#666" stroke-width="0.42"/>
<line x1="339.9" y1="155.4" x2="342.1" y2="155.4" stroke="#666" stroke-width="0.42"/>
<rect x="356.20" y="141.33" width="8.20" height="27.87" fill="#e6e6e6" stroke="#888" stroke-width="0.5"/>
<line x1="360.29999999999995" y1="130.2" x2="360.29999999999995" y2="151.8" stroke="#666" stroke-width="0.42"/>
<line x1="359.19999999999993" y1="130.2" x2="361.4" y2="130.2" stroke="#666" stroke-width="0.42"/>
<line x1="359.19999999999993" y1="151.8" x2="361.4" y2="151.8" stroke="#666" stroke-width="0.42"/>
<rect x="375.30" y="138.51" width="8.20" height="30.69" fill="#e6e6e6" stroke="#888" stroke-width="0.5"/>
<line x1="379.4" y1="128.6" x2="379.4" y2="148.2" stroke="#666" stroke-width="0.42"/>
<line x1="378.29999999999995" y1="128.6" x2="380.5" y2="128.6" stroke="#666" stroke-width="0.42"/>
<line x1="378.29999999999995" y1="148.2" x2="380.5" y2="148.2" stroke="#666" stroke-width="0.42"/>
<line x1="341.8" y1="126.6" x2="378.59999999999997" y2="126.6" stroke="#555" stroke-width="0.5"/>
<path d="M341 126.6 l1.8 -0.8 v1.6 z M379.4 126.6 l-1.8 -0.8 v1.6 z" fill="#444"/>
<text x="360.2" y="127.5" font-size="3.6" text-anchor="middle" fill="#444" font-weight="normal" font-style="normal" stroke="#444" stroke-width="0.05">*</text>
<text x="322" y="174.4" font-size="3.5" text-anchor="middle" fill="#222" font-weight="normal" font-style="normal" stroke="#222" stroke-width="0.06" textLength="9.98" lengthAdjust="spacingAndGlyphs">control</text>
<text x="341" y="174.4" font-size="3.5" text-anchor="middle" fill="#222" font-weight="normal" font-style="normal" stroke="#222" stroke-width="0.06" textLength="12.76" lengthAdjust="spacingAndGlyphs">Metformin</text>
<text x="341" y="178.8" font-size="3.5" text-anchor="middle" fill="#222" font-weight="normal" font-style="normal" stroke="#222" stroke-width="0.06" textLength="9.57" lengthAdjust="spacingAndGlyphs">0.5 mM</text>
<text x="360.3" y="174.4" font-size="3.5" text-anchor="middle" fill="#222" font-weight="normal" font-style="normal" stroke="#222" stroke-width="0.06" textLength="12.76" lengthAdjust="spacingAndGlyphs">Metformin</text>
<text x="360.3" y="178.8" font-size="3.5" text-anchor="middle" fill="#222" font-weight="normal" font-style="normal" stroke="#222" stroke-width="0.06" textLength="7.18" lengthAdjust="spacingAndGlyphs">2 mM</text>
<text x="379.4" y="174.4" font-size="3.5" text-anchor="middle" fill="#222" font-weight="normal" font-style="normal" stroke="#222" stroke-width="0.06" textLength="12.76" lengthAdjust="spacingAndGlyphs">Metformin</text>
<text x="379.4" y="178.8" font-size="3.5" text-anchor="middle" fill="#222" font-weight="normal" font-style="normal" stroke="#222" stroke-width="0.06" textLength="7.18" lengthAdjust="spacingAndGlyphs">4 mM</text>
<text x="298.6" y="145.6" font-size="3.65" text-anchor="middle" fill="#222" font-weight="normal" font-style="normal" stroke="#222" stroke-width="0.06" transform="rotate(-90 298.6 145.6)">hepcidin mRNA expression</text>
<text x="302.2" y="145.6" font-size="3.65" text-anchor="middle" fill="#222" font-weight="normal" font-style="normal" stroke="#222" stroke-width="0.06" transform="rotate(-90 302.2 145.6)">(fold change vs control)</text>
<text x="437" y="71.2" font-size="4.6" text-anchor="start" fill="#222" font-weight="normal" font-style="normal" stroke="#222" stroke-width="0.03">Hep3B cells</text>
<line x1="426" y1="73.8" x2="426" y2="124" stroke="#777" stroke-width="0.6"/>
<line x1="424.8" y1="124.0" x2="426" y2="124.0" stroke="#777" stroke-width="0.4"/>
<text x="424.0" y="125.365" font-size="3.9" text-anchor="end" fill="#222" font-weight="normal" font-style="normal" stroke="#222" stroke-width="0.1">0</text>
<line x1="424.8" y1="115.8" x2="426" y2="115.8" stroke="#777" stroke-width="0.4"/>
<text x="424.0" y="117.16499999999999" font-size="3.9" text-anchor="end" fill="#222" font-weight="normal" font-style="normal" stroke="#222" stroke-width="0.1">2</text>
<line x1="424.8" y1="107.6" x2="426" y2="107.6" stroke="#777" stroke-width="0.4"/>
<text x="424.0" y="108.96499999999999" font-size="3.9" text-anchor="end" fill="#222" font-weight="normal" font-style="normal" stroke="#222" stroke-width="0.1">4</text>
<line x1="424.8" y1="99.4" x2="426" y2="99.4" stroke="#777" stroke-width="0.4"/>
<text x="424.0" y="100.765" font-size="3.9" text-anchor="end" fill="#222" font-weight="normal" font-style="normal" stroke="#222" stroke-width="0.1">6</text>
<line x1="424.8" y1="91.2" x2="426" y2="91.2" stroke="#777" stroke-width="0.4"/>
<text x="424.0" y="92.565" font-size="3.9" text-anchor="end" fill="#222" font-weight="normal" font-style="normal" stroke="#222" stroke-width="0.1">8</text>
<line x1="424.8" y1="83.0" x2="426" y2="83.0" stroke="#777" stroke-width="0.4"/>
<text x="424.0" y="84.365" font-size="3.9" text-anchor="end" fill="#222" font-weight="normal" font-style="normal" stroke="#222" stroke-width="0.1">10</text>
<line x1="424.8" y1="74.80000000000001" x2="426" y2="74.80000000000001" stroke="#777" stroke-width="0.4"/>
<text x="424.0" y="76.165" font-size="3.9" text-anchor="end" fill="#222" font-weight="normal" font-style="normal" stroke="#222" stroke-width="0.1">12</text>
<line x1="426" y1="124" x2="520" y2="124" stroke="#777" stroke-width="0.6"/>
<rect x="432.00" y="119.90" width="8.40" height="4.10" fill="#e6e6e6" stroke="#888" stroke-width="0.5"/>
<rect x="450.40" y="109.24" width="8.40" height="14.76" fill="#e6e6e6" stroke="#888" stroke-width="0.5"/>
<line x1="454.6" y1="104.8" x2="454.6" y2="109.24" stroke="#555" stroke-width="0.5"/>
<line x1="453.40000000000003" y1="104.8" x2="455.8" y2="104.8" stroke="#555" stroke-width="0.5"/>
<circle cx="454.6" cy="101.69999999999999" r="0.95" fill="#222"/>
<rect x="468.70" y="103.70" width="8.30" height="20.30" fill="#e6e6e6" stroke="#888" stroke-width="0.5"/>
<line x1="472.85" y1="95.9" x2="472.85" y2="103.705" stroke="#555" stroke-width="0.5"/>
<line x1="471.65000000000003" y1="95.9" x2="474.05" y2="95.9" stroke="#555" stroke-width="0.5"/>
<circle cx="472.85" cy="94.0" r="0.95" fill="#222"/>
<rect x="487.00" y="88.12" width="8.30" height="35.88" fill="#e6e6e6" stroke="#888" stroke-width="0.5"/>
<line x1="491.15" y1="72.3" x2="491.15" y2="88.125" stroke="#555" stroke-width="0.5"/>
<line x1="489.95" y1="72.3" x2="492.34999999999997" y2="72.3" stroke="#555" stroke-width="0.5"/>
<circle cx="491.15" cy="70.5" r="0.95" fill="#222"/>
<rect x="505.00" y="109.24" width="8.40" height="14.76" fill="#e6e6e6" stroke="#888" stroke-width="0.5"/>
<line x1="509.2" y1="101.5" x2="509.2" y2="109.24" stroke="#555" stroke-width="0.5"/>
<line x1="508.0" y1="101.5" x2="510.4" y2="101.5" stroke="#555" stroke-width="0.5"/>
<circle cx="509.2" cy="99.5" r="0.95" fill="#222"/>
<text x="436.2" y="129.4" font-size="3.5" text-anchor="middle" fill="#222" font-weight="normal" font-style="normal" stroke="#222" stroke-width="0.06" textLength="9.98" lengthAdjust="spacingAndGlyphs">control</text>
<text x="454.6" y="129.4" font-size="3.5" text-anchor="middle" fill="#222" font-weight="normal" font-style="normal" stroke="#222" stroke-width="0.06" textLength="11.69" lengthAdjust="spacingAndGlyphs">Sorafenib</text>
<text x="454.6" y="133.8" font-size="3.5" text-anchor="middle" fill="#222" font-weight="normal" font-style="normal" stroke="#222" stroke-width="0.06" textLength="6.44" lengthAdjust="spacingAndGlyphs">5 µM</text>
<text x="472.9" y="129.4" font-size="3.5" text-anchor="middle" fill="#222" font-weight="normal" font-style="normal" stroke="#222" stroke-width="0.06" textLength="15.80" lengthAdjust="spacingAndGlyphs">Wortmannin</text>
<text x="472.9" y="133.8" font-size="3.5" text-anchor="middle" fill="#222" font-weight="normal" font-style="normal" stroke="#222" stroke-width="0.06" textLength="6.44" lengthAdjust="spacingAndGlyphs">5 µM</text>
<text x="491.2" y="129.4" font-size="3.5" text-anchor="middle" fill="#222" font-weight="normal" font-style="normal" stroke="#222" stroke-width="0.06" textLength="14.01" lengthAdjust="spacingAndGlyphs">Rapamycin</text>
<text x="491.2" y="133.8" font-size="3.5" text-anchor="middle" fill="#222" font-weight="normal" font-style="normal" stroke="#222" stroke-width="0.06" textLength="9.57" lengthAdjust="spacingAndGlyphs">100 nM</text>
<text x="509.2" y="129.4" font-size="3.5" text-anchor="middle" fill="#222" font-weight="normal" font-style="normal" stroke="#222" stroke-width="0.06" textLength="12.76" lengthAdjust="spacingAndGlyphs">Metformin</text>
<text x="509.2" y="133.8" font-size="3.5" text-anchor="middle" fill="#222" font-weight="normal" font-style="normal" stroke="#222" stroke-width="0.06" textLength="7.18" lengthAdjust="spacingAndGlyphs">4 mM</text>
<text x="411.2" y="101.2" font-size="3.65" text-anchor="middle" fill="#222" font-weight="normal" font-style="normal" stroke="#222" stroke-width="0.06" transform="rotate(-90 411.2 101.2)">hepcidin mRNA expression</text>
<text x="414.8" y="101.2" font-size="3.65" text-anchor="middle" fill="#222" font-weight="normal" font-style="normal" stroke="#222" stroke-width="0.06" transform="rotate(-90 414.8 101.2)">(fold change vs control)</text>
<text x="30" y="153.6" font-size="4.6" text-anchor="start" fill="#222" font-weight="normal" font-style="normal" stroke="#222" stroke-width="0.03">Huh7 cells</text>
<line x1="18.4" y1="164" x2="18.4" y2="301.6" stroke="#888" stroke-width="0.7"/>
<line x1="17.2" y1="164.4" x2="18.4" y2="164.4" stroke="#888" stroke-width="0.4"/>
<text x="15.6" y="165.8" font-size="4.1" text-anchor="end" fill="#111" font-weight="normal" font-style="normal" stroke="#111" stroke-width="0.16">7</text>
<line x1="17.2" y1="184.4" x2="18.4" y2="184.4" stroke="#888" stroke-width="0.4"/>
<text x="15.6" y="185.8" font-size="4.1" text-anchor="end" fill="#111" font-weight="normal" font-style="normal" stroke="#111" stroke-width="0.16">6</text>
<line x1="17.2" y1="204.4" x2="18.4" y2="204.4" stroke="#888" stroke-width="0.4"/>
<text x="15.6" y="205.8" font-size="4.1" text-anchor="end" fill="#111" font-weight="normal" font-style="normal" stroke="#111" stroke-width="0.16">5</text>
<line x1="17.2" y1="224.4" x2="18.4" y2="224.4" stroke="#888" stroke-width="0.4"/>
<text x="15.6" y="225.8" font-size="4.1" text-anchor="end" fill="#111" font-weight="normal" font-style="normal" stroke="#111" stroke-width="0.16">4</text>
<line x1="17.2" y1="235" x2="18.4" y2="235" stroke="#888" stroke-width="0.4"/>
<text x="15.6" y="236.4" font-size="4.1" text-anchor="end" fill="#111" font-weight="normal" font-style="normal" stroke="#111" stroke-width="0.16">2</text>
<line x1="17.2" y1="268.3" x2="18.4" y2="268.3" stroke="#888" stroke-width="0.4"/>
<text x="15.6" y="269.7" font-size="4.1" text-anchor="end" fill="#111" font-weight="normal" font-style="normal" stroke="#111" stroke-width="0.16">1</text>
<line x1="17.2" y1="301.6" x2="18.4" y2="301.6" stroke="#888" stroke-width="0.4"/>
<text x="15.6" y="303.0" font-size="4.1" text-anchor="end" fill="#111" font-weight="normal" font-style="normal" stroke="#111" stroke-width="0.16">0</text>
<line x1="18.4" y1="301.6" x2="161" y2="301.6" stroke="#888" stroke-width="0.7"/>
<rect x="17.00" y="225.60" width="3.00" height="8.60" fill="#fff" stroke="none" stroke-width="0.5"/>
<text x="3.4" y="224.3" font-size="3.7" text-anchor="middle" fill="#222" font-weight="normal" font-style="normal" stroke="#222" stroke-width="0.06" transform="rotate(-90 3.4 224.3)">Luciferase activity (Firefly/Renilla ratio)</text>
<rect x="20.00" y="268.30" width="3.00" height="33.30" fill="#000" stroke="none" stroke-width="0.5"/>
<rect x="23.00" y="268.30" width="3.00" height="33.30" fill="#fff" stroke="#999" stroke-width="0.35"/>
<rect x="26.00" y="268.30" width="3.00" height="33.30" fill="#666" stroke="none" stroke-width="0.5"/>
<rect x="33.00" y="210.60" width="3.00" height="91.00" fill="#000" stroke="none" stroke-width="0.5"/>
<rect x="36.00" y="209.60" width="3.00" height="92.00" fill="#fff" stroke="#888" stroke-width="0.4"/>
<rect x="32.50" y="227.60" width="7.00" height="3.60" fill="#fff" stroke="none" stroke-width="0.5"/>
<line x1="34.5" y1="198" x2="34.5" y2="210.6" stroke="#777" stroke-width="0.4"/>
<line x1="33.7" y1="198" x2="35.3" y2="198" stroke="#777" stroke-width="0.4"/>
<line x1="37.5" y1="174" x2="37.5" y2="209.6" stroke="#777" stroke-width="0.4"/>
<line x1="36.7" y1="174" x2="38.3" y2="174" stroke="#777" stroke-width="0.4"/>
<rect x="39.00" y="265.97" width="3.00" height="35.63" fill="#666" stroke="none" stroke-width="0.5"/>
<line x1="40.5" y1="259" x2="40.5" y2="265.96900000000005" stroke="#777" stroke-width="0.4"/>
<line x1="39.7" y1="259" x2="41.3" y2="259" stroke="#777" stroke-width="0.4"/>
<path d="M36.2 172.6 v-1 h8 v1" fill="none" stroke="#222" stroke-width="0.6"/>
<text x="40.2" y="172.6" font-size="6.6" text-anchor="middle" fill="#111" font-weight="bold" font-style="normal">**</text>
<rect x="46.50" y="271.96" width="3.00" height="29.64" fill="#000" stroke="none" stroke-width="0.5"/>
<line x1="48.0" y1="267" x2="48.0" y2="271.963" stroke="#555" stroke-width="0.45"/>
<line x1="47.2" y1="267" x2="48.8" y2="267" stroke="#555" stroke-width="0.45"/>
<rect x="49.50" y="274.29" width="3.00" height="27.31" fill="#fff" stroke="#999" stroke-width="0.35"/>
<line x1="51.0" y1="266.5" x2="51.0" y2="274.29400000000004" stroke="#555" stroke-width="0.45"/>
<line x1="50.2" y1="266.5" x2="51.8" y2="266.5" stroke="#555" stroke-width="0.45"/>
<rect x="52.50" y="276.62" width="3.00" height="24.98" fill="#666" stroke="none" stroke-width="0.5"/>
<line x1="54.0" y1="271" x2="54.0" y2="276.625" stroke="#555" stroke-width="0.45"/>
<line x1="53.2" y1="271" x2="54.8" y2="271" stroke="#555" stroke-width="0.45"/>
<rect x="60.00" y="282.95" width="3.00" height="18.65" fill="#000" stroke="none" stroke-width="0.5"/>
<line x1="61.5" y1="278.5" x2="61.5" y2="282.952" stroke="#555" stroke-width="0.45"/>
<line x1="60.7" y1="278.5" x2="62.3" y2="278.5" stroke="#555" stroke-width="0.45"/>
<rect x="63.00" y="284.28" width="3.00" height="17.32" fill="#fff" stroke="#999" stroke-width="0.35"/>
<line x1="64.5" y1="280" x2="64.5" y2="284.28400000000005" stroke="#555" stroke-width="0.45"/>
<line x1="63.7" y1="280" x2="65.3" y2="280" stroke="#555" stroke-width="0.45"/>
<rect x="66.00" y="284.95" width="3.00" height="16.65" fill="#666" stroke="none" stroke-width="0.5"/>
<line x1="67.5" y1="281.5" x2="67.5" y2="284.95000000000005" stroke="#555" stroke-width="0.45"/>
<line x1="66.7" y1="281.5" x2="68.3" y2="281.5" stroke="#555" stroke-width="0.45"/>
<rect x="73.00" y="273.63" width="3.00" height="27.97" fill="#000" stroke="none" stroke-width="0.5"/>
<line x1="74.5" y1="266" x2="74.5" y2="273.62800000000004" stroke="#555" stroke-width="0.45"/>
<line x1="73.7" y1="266" x2="75.3" y2="266" stroke="#555" stroke-width="0.45"/>
<rect x="76.00" y="273.96" width="3.00" height="27.64" fill="#fff" stroke="#999" stroke-width="0.35"/>
<line x1="77.5" y1="262" x2="77.5" y2="273.961" stroke="#555" stroke-width="0.45"/>
<line x1="76.7" y1="262" x2="78.3" y2="262" stroke="#555" stroke-width="0.45"/>
<rect x="79.00" y="269.63" width="3.00" height="31.97" fill="#666" stroke="none" stroke-width="0.5"/>
<line x1="80.5" y1="260" x2="80.5" y2="269.632" stroke="#555" stroke-width="0.45"/>
<line x1="79.7" y1="260" x2="81.3" y2="260" stroke="#555" stroke-width="0.45"/>
<rect x="85.70" y="292.61" width="3.00" height="8.99" fill="#000" stroke="none" stroke-width="0.5"/>
<line x1="87.2" y1="286" x2="87.2" y2="292.60900000000004" stroke="#555" stroke-width="0.45"/>
<line x1="86.4" y1="286" x2="88.0" y2="286" stroke="#555" stroke-width="0.45"/>
<rect x="88.70" y="291.61" width="3.00" height="9.99" fill="#fff" stroke="#999" stroke-width="0.35"/>
<line x1="90.2" y1="284" x2="90.2" y2="291.61" stroke="#555" stroke-width="0.45"/>
<line x1="89.4" y1="284" x2="91.0" y2="284" stroke="#555" stroke-width="0.45"/>
<rect x="91.70" y="288.95" width="3.00" height="12.65" fill="#666" stroke="none" stroke-width="0.5"/>
<line x1="93.2" y1="281" x2="93.2" y2="288.946" stroke="#555" stroke-width="0.45"/>
<line x1="92.4" y1="281" x2="94.0" y2="281" stroke="#555" stroke-width="0.45"/>
<rect x="99.00" y="294.94" width="3.00" height="6.66" fill="#000" stroke="none" stroke-width="0.5"/>
<line x1="100.5" y1="289" x2="100.5" y2="294.94" stroke="#555" stroke-width="0.45"/>
<line x1="99.7" y1="289" x2="101.3" y2="289" stroke="#555" stroke-width="0.45"/>
<rect x="102.00" y="284.95" width="3.00" height="16.65" fill="#fff" stroke="#999" stroke-width="0.35"/>
<line x1="103.5" y1="282" x2="103.5" y2="284.95000000000005" stroke="#555" stroke-width="0.45"/>
<line x1="102.7" y1="282" x2="104.3" y2="282" stroke="#555" stroke-width="0.45"/>
<rect x="105.00" y="283.62" width="3.00" height="17.98" fill="#666" stroke="none" stroke-width="0.5"/>
<line x1="106.5" y1="277" x2="106.5" y2="283.61800000000005" stroke="#555" stroke-width="0.45"/>
<line x1="105.7" y1="277" x2="107.3" y2="277" stroke="#555" stroke-width="0.45"/>
<rect x="111.20" y="287.28" width="3.00" height="14.32" fill="#000" stroke="none" stroke-width="0.5"/>
<line x1="112.7" y1="281" x2="112.7" y2="287.281" stroke="#555" stroke-width="0.45"/>
<line x1="111.9" y1="281" x2="113.5" y2="281" stroke="#555" stroke-width="0.45"/>
<rect x="114.20" y="280.95" width="3.00" height="20.65" fill="#fff" stroke="#999" stroke-width="0.35"/>
<line x1="115.7" y1="276" x2="115.7" y2="280.954" stroke="#555" stroke-width="0.45"/>
<line x1="114.9" y1="276" x2="116.5" y2="276" stroke="#555" stroke-width="0.45"/>
<rect x="117.20" y="279.96" width="3.00" height="21.64" fill="#666" stroke="none" stroke-width="0.5"/>
<line x1="118.7" y1="270.6" x2="118.7" y2="279.95500000000004" stroke="#555" stroke-width="0.45"/>
<line x1="117.9" y1="270.6" x2="119.5" y2="270.6" stroke="#555" stroke-width="0.45"/>
<rect x="124.00" y="299.94" width="3.00" height="1.67" fill="#000" stroke="none" stroke-width="0.5"/>
<line x1="125.5" y1="297" x2="125.5" y2="299.935" stroke="#555" stroke-width="0.45"/>
<line x1="124.7" y1="297" x2="126.3" y2="297" stroke="#555" stroke-width="0.45"/>
<rect x="127.00" y="294.94" width="3.00" height="6.66" fill="#fff" stroke="#999" stroke-width="0.35"/>
<line x1="128.5" y1="292" x2="128.5" y2="294.94" stroke="#555" stroke-width="0.45"/>
<line x1="127.7" y1="292" x2="129.3" y2="292" stroke="#555" stroke-width="0.45"/>
<rect x="130.00" y="292.61" width="3.00" height="8.99" fill="#666" stroke="none" stroke-width="0.5"/>
<line x1="131.5" y1="288" x2="131.5" y2="292.60900000000004" stroke="#555" stroke-width="0.45"/>
<line x1="130.7" y1="288" x2="132.3" y2="288" stroke="#555" stroke-width="0.45"/>
<rect x="137.00" y="255.98" width="3.00" height="45.62" fill="#000" stroke="none" stroke-width="0.5"/>
<line x1="138.5" y1="248" x2="138.5" y2="255.979" stroke="#555" stroke-width="0.45"/>
<line x1="137.7" y1="248" x2="139.3" y2="248" stroke="#555" stroke-width="0.45"/>
<rect x="140.00" y="257.98" width="3.00" height="43.62" fill="#fff" stroke="#999" stroke-width="0.35"/>
<line x1="141.5" y1="255" x2="141.5" y2="257.97700000000003" stroke="#555" stroke-width="0.45"/>
<line x1="140.7" y1="255" x2="142.3" y2="255" stroke="#555" stroke-width="0.45"/>
<rect x="143.00" y="268.97" width="3.00" height="32.63" fill="#666" stroke="none" stroke-width="0.5"/>
<line x1="144.5" y1="262" x2="144.5" y2="268.966" stroke="#555" stroke-width="0.45"/>
<line x1="143.7" y1="262" x2="145.3" y2="262" stroke="#555" stroke-width="0.45"/>
<rect x="150.20" y="257.98" width="3.00" height="43.62" fill="#000" stroke="none" stroke-width="0.5"/>
<line x1="151.7" y1="249" x2="151.7" y2="257.97700000000003" stroke="#555" stroke-width="0.45"/>
<line x1="150.89999999999998" y1="249" x2="152.5" y2="249" stroke="#555" stroke-width="0.45"/>
<rect x="153.20" y="259.64" width="3.00" height="41.96" fill="#fff" stroke="#999" stroke-width="0.35"/>
<line x1="154.7" y1="256" x2="154.7" y2="259.64200000000005" stroke="#555" stroke-width="0.45"/>
<line x1="153.89999999999998" y1="256" x2="155.5" y2="256" stroke="#555" stroke-width="0.45"/>
<rect x="156.20" y="271.96" width="3.00" height="29.64" fill="#666" stroke="none" stroke-width="0.5"/>
<line x1="157.7" y1="265" x2="157.7" y2="271.963" stroke="#555" stroke-width="0.45"/>
<line x1="156.89999999999998" y1="265" x2="158.5" y2="265" stroke="#555" stroke-width="0.45"/>
<text x="61.5" y="279.20000000000005" font-size="4.4" text-anchor="middle" fill="#222" font-weight="bold" font-style="normal">*</text>
<text x="61.5" y="277.20000000000005" font-size="4.4" text-anchor="middle" fill="#222" font-weight="bold" font-style="normal">*</text>
<text x="64.5" y="280.6" font-size="4.4" text-anchor="middle" fill="#222" font-weight="bold" font-style="normal">*</text>
<text x="64.5" y="278.6" font-size="4.4" text-anchor="middle" fill="#222" font-weight="bold" font-style="normal">*</text>
<text x="67.6" y="282.0" font-size="4.4" text-anchor="middle" fill="#222" font-weight="bold" font-style="normal">*</text>
<text x="87.2" y="286.6" font-size="4.4" text-anchor="middle" fill="#222" font-weight="bold" font-style="normal">*</text>
<text x="87.2" y="284.6" font-size="4.4" text-anchor="middle" fill="#222" font-weight="bold" font-style="normal">*</text>
<text x="90" y="284.6" font-size="4.4" text-anchor="middle" fill="#222" font-weight="bold" font-style="normal">*</text>
<text x="93" y="281.6" font-size="4.4" text-anchor="middle" fill="#222" font-weight="bold" font-style="normal">*</text>
<text x="100.5" y="289.6" font-size="4.4" text-anchor="middle" fill="#222" font-weight="bold" font-style="normal">*</text>
<text x="100.5" y="287.6" font-size="4.4" text-anchor="middle" fill="#222" font-weight="bold" font-style="normal">*</text>
<text x="106.5" y="277.6" font-size="4.4" text-anchor="middle" fill="#222" font-weight="bold" font-style="normal">*</text>
<text x="106.5" y="275.6" font-size="4.4" text-anchor="middle" fill="#222" font-weight="bold" font-style="normal">*</text>
<text x="112.7" y="281.6" font-size="4.4" text-anchor="middle" fill="#222" font-weight="bold" font-style="normal">*</text>
<text x="112.7" y="279.6" font-size="4.4" text-anchor="middle" fill="#222" font-weight="bold" font-style="normal">*</text>
<text x="125.5" y="298.1" font-size="4.4" text-anchor="middle" fill="#222" font-weight="bold" font-style="normal">*</text>
<text x="125.5" y="296.1" font-size="4.4" text-anchor="middle" fill="#222" font-weight="bold" font-style="normal">*</text>
<text x="128.5" y="293.1" font-size="4.4" text-anchor="middle" fill="#222" font-weight="bold" font-style="normal">*</text>
<text x="131" y="289.1" font-size="4.4" text-anchor="middle" fill="#222" font-weight="bold" font-style="normal">*</text>
<path d="M99.8 274.2 v-1 h8 v1" fill="none" stroke="#222" stroke-width="0.6"/>
<text x="103.8" y="274.2" font-size="6.6" text-anchor="middle" fill="#111" font-weight="bold" font-style="normal">**</text>
<path d="M124.6 280.2 v-1 h8 v1" fill="none" stroke="#222" stroke-width="0.6"/>
<text x="128.6" y="280.2" font-size="6.6" text-anchor="middle" fill="#111" font-weight="bold" font-style="normal">**</text>
<text x="25.6" y="312.6" font-size="3.2" text-anchor="middle" fill="#333" font-weight="normal" font-style="normal" stroke="#333" stroke-width="0.05" transform="rotate(-90 25.6 312.6)">empty</text>
<text x="37.8" y="312.6" font-size="3.2" text-anchor="middle" fill="#333" font-weight="normal" font-style="normal" stroke="#333" stroke-width="0.05" transform="rotate(-90 37.8 312.6)">IsV</text>
<text x="50.2" y="312.6" font-size="3.2" text-anchor="middle" fill="#333" font-weight="normal" font-style="normal" stroke="#333" stroke-width="0.05" transform="rotate(-90 50.2 312.6)">PDK1 WT</text>
<text x="63.8" y="312.6" font-size="3.2" text-anchor="middle" fill="#333" font-weight="normal" font-style="normal" stroke="#333" stroke-width="0.05" transform="rotate(-90 63.8 312.6)">PDK1 CA</text>
<text x="78.2" y="312.6" font-size="3.2" text-anchor="middle" fill="#333" font-weight="normal" font-style="normal" stroke="#333" stroke-width="0.05" transform="rotate(-90 78.2 312.6)">RAC WT</text>
<text x="91.2" y="312.6" font-size="3.2" text-anchor="middle" fill="#333" font-weight="normal" font-style="normal" stroke="#333" stroke-width="0.05" transform="rotate(-90 91.2 312.6)">RAC CA</text>
<text x="103.6" y="312.6" font-size="3.2" text-anchor="middle" fill="#333" font-weight="normal" font-style="normal" stroke="#333" stroke-width="0.05" transform="rotate(-90 103.6 312.6)">KRAS</text>
<text x="116.2" y="312.6" font-size="3.2" text-anchor="middle" fill="#333" font-weight="normal" font-style="normal" stroke="#333" stroke-width="0.05" transform="rotate(-90 116.2 312.6)">BRAF WT</text>
<text x="129.2" y="312.6" font-size="3.2" text-anchor="middle" fill="#333" font-weight="normal" font-style="normal" stroke="#333" stroke-width="0.05" transform="rotate(-90 129.2 312.6)">BRAF CA</text>
<text x="142.8" y="312.6" font-size="3.2" text-anchor="middle" fill="#333" font-weight="normal" font-style="normal" stroke="#333" stroke-width="0.05" transform="rotate(-90 142.8 312.6)">MEK1 WT</text>
<text x="155.6" y="312.6" font-size="3.2" text-anchor="middle" fill="#333" font-weight="normal" font-style="normal" stroke="#333" stroke-width="0.05" transform="rotate(-90 155.6 312.6)">MEK1 CA</text>
<line x1="45.6" y1="321.6" x2="64.4" y2="321.6" stroke="#555" stroke-width="0.5"/>
<line x1="73.6" y1="321.6" x2="93" y2="321.6" stroke="#555" stroke-width="0.5"/>
<line x1="98" y1="321.6" x2="159" y2="321.6" stroke="#555" stroke-width="0.5"/>
<text x="54.8" y="329" font-size="5.3" text-anchor="middle" fill="#222" font-weight="normal" font-style="normal" stroke="#222" stroke-width="0.03">PI3K/Akt</text>
<text x="83" y="329" font-size="5.3" text-anchor="middle" fill="#222" font-weight="normal" font-style="normal" stroke="#222" stroke-width="0.03">Rho</text>
<text x="127" y="329" font-size="5.3" text-anchor="middle" fill="#222" font-weight="normal" font-style="normal" stroke="#222" stroke-width="0.03">Ras-MAPK</text>
<line x1="64" y1="178.3" x2="105" y2="178.3" stroke="#6a6a6a" stroke-width="0.8"/>
<line x1="64" y1="185.2" x2="105" y2="185.2" stroke="#6a6a6a" stroke-width="0.8"/>
<line x1="64" y1="192.1" x2="105" y2="192.1" stroke="#6a6a6a" stroke-width="0.8"/>
<rect x="104.60" y="177.00" width="4.00" height="2.60" fill="#fff" stroke="#222" stroke-width="0.55"/>
<line x1="108.6" y1="178.3" x2="111.4" y2="178.3" stroke="#444" stroke-width="0.6"/>
<rect x="111.40" y="177.20" width="5.20" height="2.30" fill="#fff" stroke="#222" stroke-width="0.55"/>
<path d="M104.8 177.0 v-1.9 h4.6" fill="none" stroke="#222" stroke-width="0.5" stroke-dasharray="1 0.5"/>
<path d="M111.2 175.10000000000002 l-2 -1.1 v2.2 z" fill="#111"/>
<rect x="104.60" y="183.90" width="4.00" height="2.60" fill="#fff" stroke="#222" stroke-width="0.55"/>
<line x1="108.6" y1="185.2" x2="111.4" y2="185.2" stroke="#444" stroke-width="0.6"/>
<rect x="111.40" y="184.10" width="5.20" height="2.30" fill="#fff" stroke="#222" stroke-width="0.55"/>
<path d="M104.8 183.89999999999998 v-1.9 h4.6" fill="none" stroke="#222" stroke-width="0.5" stroke-dasharray="1 0.5"/>
<path d="M111.2 182.0 l-2 -1.1 v2.2 z" fill="#111"/>
<rect x="104.60" y="190.80" width="4.00" height="2.60" fill="#fff" stroke="#222" stroke-width="0.55"/>
<line x1="108.6" y1="192.1" x2="111.4" y2="192.1" stroke="#444" stroke-width="0.6"/>
<rect x="111.40" y="191.00" width="5.20" height="2.30" fill="#fff" stroke="#222" stroke-width="0.55"/>
<path d="M104.8 190.79999999999998 v-1.9 h4.6" fill="none" stroke="#222" stroke-width="0.5" stroke-dasharray="1 0.5"/>
<path d="M111.2 188.9 l-2 -1.1 v2.2 z" fill="#111"/>
<rect x="94.80" y="183.50" width="6.40" height="3.50" fill="#d0d0d0" stroke="#777" stroke-width="0.45"/>
<text x="98.0" y="186.2" font-size="2.4" text-anchor="middle" fill="#555" font-weight="normal" font-style="normal">B1</text>
<rect x="74.00" y="190.00" width="6.00" height="4.20" fill="#333" stroke="#222" stroke-width="0.4"/>
<text x="77" y="193.0" font-size="2.4" text-anchor="middle" fill="#ccc" font-weight="normal" font-style="normal">B2</text>
<rect x="93.00" y="190.00" width="6.00" height="4.20" fill="#333" stroke="#222" stroke-width="0.4"/>
<text x="96" y="193.0" font-size="2.4" text-anchor="middle" fill="#ccc" font-weight="normal" font-style="normal">B1</text>
<text x="118" y="179.3" font-size="2.55" text-anchor="start" fill="#444" font-weight="normal" font-style="normal">WT_2.7kb</text>
<text x="118" y="186.2" font-size="2.55" text-anchor="start" fill="#444" font-weight="normal" font-style="normal">STAT_2.7kb</text>
<text x="118" y="193.1" font-size="2.55" text-anchor="start" fill="#444" font-weight="normal" font-style="normal">BMP_RE1_BMP_RE2_2.7kb</text>
<rect x="153.60" y="175.60" width="4.20" height="4.10" fill="#000" stroke="#000" stroke-width="0.4"/>
<rect x="153.60" y="182.30" width="4.20" height="4.10" fill="#fff" stroke="#222" stroke-width="0.6"/>
<rect x="153.60" y="189.20" width="4.20" height="4.10" fill="#666" stroke="#222" stroke-width="0.6"/>
<text x="211.6" y="233.4" font-size="4.5" text-anchor="start" fill="#222" font-weight="normal" font-style="normal" stroke="#222" stroke-width="0.03">Huh7 cells</text>
<line x1="204.4" y1="253.6" x2="204.4" y2="302.5" stroke="#888" stroke-width="0.7"/>
<line x1="203.2" y1="302.5" x2="204.4" y2="302.5" stroke="#888" stroke-width="0.4"/>
<text x="202" y="303.8" font-size="3.7" text-anchor="end" fill="#222" font-weight="normal" font-style="normal" stroke="#222" stroke-width="0.16">0</text>
<line x1="203.2" y1="294.4" x2="204.4" y2="294.4" stroke="#888" stroke-width="0.4"/>
<text x="202" y="295.7" font-size="3.7" text-anchor="end" fill="#222" font-weight="normal" font-style="normal" stroke="#222" stroke-width="0.16">0.5</text>
<line x1="203.2" y1="286.3" x2="204.4" y2="286.3" stroke="#888" stroke-width="0.4"/>
<text x="202" y="287.6" font-size="3.7" text-anchor="end" fill="#222" font-weight="normal" font-style="normal" stroke="#222" stroke-width="0.16">1</text>
<line x1="203.2" y1="278.2" x2="204.4" y2="278.2" stroke="#888" stroke-width="0.4"/>
<text x="202" y="279.5" font-size="3.7" text-anchor="end" fill="#222" font-weight="normal" font-style="normal" stroke="#222" stroke-width="0.16">1.5</text>
<line x1="203.2" y1="270.1" x2="204.4" y2="270.1" stroke="#888" stroke-width="0.4"/>
<text x="202" y="271.40000000000003" font-size="3.7" text-anchor="end" fill="#222" font-weight="normal" font-style="normal" stroke="#222" stroke-width="0.16">2</text>
<line x1="203.2" y1="262.0" x2="204.4" y2="262.0" stroke="#888" stroke-width="0.4"/>
<text x="202" y="263.3" font-size="3.7" text-anchor="end" fill="#222" font-weight="normal" font-style="normal" stroke="#222" stroke-width="0.16">2.5</text>
<line x1="203.2" y1="253.9" x2="204.4" y2="253.9" stroke="#888" stroke-width="0.4"/>
<text x="202" y="255.20000000000002" font-size="3.7" text-anchor="end" fill="#222" font-weight="normal" font-style="normal" stroke="#222" stroke-width="0.16">3</text>
<line x1="204.4" y1="302.5" x2="260.8" y2="302.5" stroke="#888" stroke-width="0.7"/>
<text x="193.0" y="272.6" font-size="3.58" text-anchor="middle" fill="#222" font-weight="normal" font-style="normal" stroke="#222" stroke-width="0.06" transform="rotate(-90 193.0 272.6)">Luciferase activity (Firefly/Renilla ratio)</text>
<rect x="209.00" y="286.30" width="6.00" height="16.20" fill="#000" stroke="none" stroke-width="0.5"/>
<rect x="215.00" y="286.30" width="6.00" height="16.20" fill="#fff" stroke="#888" stroke-width="0.4"/>
<rect x="221.00" y="286.30" width="6.00" height="16.20" fill="#666" stroke="none" stroke-width="0.5"/>
<rect x="236.40" y="262.97" width="6.20" height="39.53" fill="#000" stroke="none" stroke-width="0.5"/>
<rect x="242.60" y="262.97" width="6.20" height="39.53" fill="#fff" stroke="#888" stroke-width="0.4"/>
<rect x="248.80" y="276.90" width="6.20" height="25.60" fill="#666" stroke="none" stroke-width="0.5"/>
<line x1="239.5" y1="257.6" x2="239.5" y2="263" stroke="#777" stroke-width="0.4"/>
<line x1="238.5" y1="257.6" x2="240.5" y2="257.6" stroke="#777" stroke-width="0.4"/>
<line x1="251.9" y1="270" x2="251.9" y2="277" stroke="#777" stroke-width="0.4"/>
<line x1="250.9" y1="270" x2="252.9" y2="270" stroke="#777" stroke-width="0.4"/>
<text x="239.5" y="260.6" font-size="5.6" text-anchor="middle" fill="#222" font-weight="bold" font-style="normal">*</text>
<text x="245.7" y="263.4" font-size="5.2" text-anchor="middle" fill="#222" font-weight="bold" font-style="normal">**</text>
<text x="252" y="271.6" font-size="5.6" text-anchor="middle" fill="#222" font-weight="bold" font-style="normal">*</text>
<line x1="238.6" y1="246.5" x2="253.6" y2="246.5" stroke="#111" stroke-width="1.0"/>
<line x1="239.0" y1="246.2" x2="239.0" y2="247.6" stroke="#222" stroke-width="0.6"/>
<line x1="253.3" y1="246.2" x2="253.3" y2="247.6" stroke="#222" stroke-width="0.6"/>
<text x="246" y="246.4" font-size="5.6" text-anchor="middle" fill="#222" font-weight="bold" font-style="normal">*</text>
<line x1="245.4" y1="252.5" x2="253.6" y2="252.5" stroke="#111" stroke-width="1.0"/>
<line x1="245.8" y1="252.7" x2="245.8" y2="254.1" stroke="#222" stroke-width="0.6"/>
<line x1="253.3" y1="252.7" x2="253.3" y2="254.1" stroke="#222" stroke-width="0.6"/>
<text x="249.8" y="253.0" font-size="5.6" text-anchor="middle" fill="#222" font-weight="bold" font-style="normal">*</text>
<text x="216.9" y="308.5" font-size="4.0" text-anchor="middle" fill="#222" font-weight="normal" font-style="normal" stroke="#222" stroke-width="0.06" textLength="11.41" lengthAdjust="spacingAndGlyphs">control</text>
<text x="246" y="308.5" font-size="4.0" text-anchor="middle" fill="#222" font-weight="normal" font-style="normal" stroke="#222" stroke-width="0.06" textLength="16.01" lengthAdjust="spacingAndGlyphs">Rapamycin</text>
<text x="246" y="313.7" font-size="4.0" text-anchor="middle" fill="#222" font-weight="normal" font-style="normal" stroke="#222" stroke-width="0.06" textLength="10.94" lengthAdjust="spacingAndGlyphs">200 nM</text>
<line x1="219" y1="321.7" x2="243.3" y2="321.7" stroke="#555" stroke-width="0.5"/>
<text x="234" y="328.6" font-size="5.3" text-anchor="middle" fill="#222" font-weight="normal" font-style="normal" stroke="#222" stroke-width="0.03">mTOR</text>
<text x="343" y="219.0" font-size="4.6" text-anchor="start" fill="#222" font-weight="normal" font-style="normal" stroke="#222" stroke-width="0.03">primary murine</text>
<text x="343" y="224.6" font-size="4.6" text-anchor="start" fill="#222" font-weight="normal" font-style="normal" stroke="#222" stroke-width="0.03">hepatocytes</text>
<line x1="314.0" y1="244.7" x2="314.0" y2="301.6" stroke="#777" stroke-width="0.6"/>
<line x1="312.8" y1="301.6" x2="314.0" y2="301.6" stroke="#777" stroke-width="0.4"/>
<text x="312.0" y="302.82500000000005" font-size="3.5" text-anchor="end" fill="#222" font-weight="normal" font-style="normal" stroke="#222" stroke-width="0.1">0</text>
<line x1="312.8" y1="294.55" x2="314.0" y2="294.55" stroke="#777" stroke-width="0.4"/>
<text x="312.0" y="295.77500000000003" font-size="3.5" text-anchor="end" fill="#222" font-weight="normal" font-style="normal" stroke="#222" stroke-width="0.1">0.5</text>
<line x1="312.8" y1="287.5" x2="314.0" y2="287.5" stroke="#777" stroke-width="0.4"/>
<text x="312.0" y="288.725" font-size="3.5" text-anchor="end" fill="#222" font-weight="normal" font-style="normal" stroke="#222" stroke-width="0.1">1</text>
<line x1="312.8" y1="280.45000000000005" x2="314.0" y2="280.45000000000005" stroke="#777" stroke-width="0.4"/>
<text x="312.0" y="281.67500000000007" font-size="3.5" text-anchor="end" fill="#222" font-weight="normal" font-style="normal" stroke="#222" stroke-width="0.1">1.5</text>
<line x1="312.8" y1="273.40000000000003" x2="314.0" y2="273.40000000000003" stroke="#777" stroke-width="0.4"/>
<text x="312.0" y="274.62500000000006" font-size="3.5" text-anchor="end" fill="#222" font-weight="normal" font-style="normal" stroke="#222" stroke-width="0.1">2</text>
<line x1="312.8" y1="266.35" x2="314.0" y2="266.35" stroke="#777" stroke-width="0.4"/>
<text x="312.0" y="267.57500000000005" font-size="3.5" text-anchor="end" fill="#222" font-weight="normal" font-style="normal" stroke="#222" stroke-width="0.1">2.5</text>
<line x1="312.8" y1="259.3" x2="314.0" y2="259.3" stroke="#777" stroke-width="0.4"/>
<text x="312.0" y="260.52500000000003" font-size="3.5" text-anchor="end" fill="#222" font-weight="normal" font-style="normal" stroke="#222" stroke-width="0.1">3</text>
<line x1="312.8" y1="252.25000000000003" x2="314.0" y2="252.25000000000003" stroke="#777" stroke-width="0.4"/>
<text x="312.0" y="253.47500000000002" font-size="3.5" text-anchor="end" fill="#222" font-weight="normal" font-style="normal" stroke="#222" stroke-width="0.1">3.5</text>
<line x1="312.8" y1="245.20000000000002" x2="314.0" y2="245.20000000000002" stroke="#777" stroke-width="0.4"/>
<text x="312.0" y="246.425" font-size="3.5" text-anchor="end" fill="#222" font-weight="normal" font-style="normal" stroke="#222" stroke-width="0.1">4</text>
<line x1="314.0" y1="301.6" x2="403" y2="301.6" stroke="#777" stroke-width="0.6"/>
<rect x="324.00" y="287.50" width="11.30" height="14.10" fill="#e6e6e6" stroke="#888" stroke-width="0.5"/>
<rect x="352.40" y="258.60" width="12.20" height="43.00" fill="#e6e6e6" stroke="#888" stroke-width="0.5"/>
<line x1="358.5" y1="247.9" x2="358.5" y2="269.7" stroke="#666" stroke-width="0.42"/>
<line x1="357.4" y1="247.9" x2="359.6" y2="247.9" stroke="#666" stroke-width="0.42"/>
<line x1="357.4" y1="269.7" x2="359.6" y2="269.7" stroke="#666" stroke-width="0.42"/>
<circle cx="358.5" cy="243.9" r="1.0" fill="#222"/>
<rect x="381.00" y="255.78" width="12.70" height="45.82" fill="#e6e6e6" stroke="#888" stroke-width="0.5"/>
<line x1="387.35" y1="250" x2="387.35" y2="263" stroke="#666" stroke-width="0.42"/>
<line x1="386.25" y1="250" x2="388.45000000000005" y2="250" stroke="#666" stroke-width="0.42"/>
<line x1="386.25" y1="263" x2="388.45000000000005" y2="263" stroke="#666" stroke-width="0.42"/>
<circle cx="387.35" cy="245.7" r="1.0" fill="#222"/>
<text x="329.3" y="309.0" font-size="4.2" text-anchor="middle" fill="#222" font-weight="normal" font-style="normal" stroke="#222" stroke-width="0.06" textLength="11.98" lengthAdjust="spacingAndGlyphs">control</text>
<text x="358.3" y="309.0" font-size="4.2" text-anchor="middle" fill="#222" font-weight="normal" font-style="normal" stroke="#222" stroke-width="0.06" textLength="16.81" lengthAdjust="spacingAndGlyphs">Rapamycin</text>
<text x="358.3" y="314.4" font-size="4.2" text-anchor="middle" fill="#222" font-weight="normal" font-style="normal" stroke="#222" stroke-width="0.06" textLength="11.49" lengthAdjust="spacingAndGlyphs">100 nM</text>
<text x="387.4" y="309.0" font-size="4.2" text-anchor="middle" fill="#222" font-weight="normal" font-style="normal" stroke="#222" stroke-width="0.06" textLength="16.81" lengthAdjust="spacingAndGlyphs">Rapamycin</text>
<text x="387.4" y="314.4" font-size="4.2" text-anchor="middle" fill="#222" font-weight="normal" font-style="normal" stroke="#222" stroke-width="0.06" textLength="11.49" lengthAdjust="spacingAndGlyphs">200 nM</text>
<text x="297.6" y="274" font-size="3.95" text-anchor="middle" fill="#222" font-weight="normal" font-style="normal" stroke="#222" stroke-width="0.06" transform="rotate(-90 297.6 274)">hepcidin-1 mRNA expression</text>
<text x="302.4" y="274" font-size="3.95" text-anchor="middle" fill="#222" font-weight="normal" font-style="normal" stroke="#222" stroke-width="0.06" transform="rotate(-90 302.4 274)">(fold change vs control)</text>
<line x1="429.3" y1="239.9" x2="429.3" y2="301.6" stroke="#777" stroke-width="0.6"/>
<line x1="428.1" y1="301.6" x2="429.3" y2="301.6" stroke="#777" stroke-width="0.4"/>
<text x="427.3" y="302.82500000000005" font-size="3.5" text-anchor="end" fill="#222" font-weight="normal" font-style="normal" stroke="#222" stroke-width="0.1">0</text>
<line x1="428.1" y1="289.25" x2="429.3" y2="289.25" stroke="#777" stroke-width="0.4"/>
<text x="427.3" y="290.475" font-size="3.5" text-anchor="end" fill="#222" font-weight="normal" font-style="normal" stroke="#222" stroke-width="0.1">0.5</text>
<line x1="428.1" y1="276.90000000000003" x2="429.3" y2="276.90000000000003" stroke="#777" stroke-width="0.4"/>
<text x="427.3" y="278.12500000000006" font-size="3.5" text-anchor="end" fill="#222" font-weight="normal" font-style="normal" stroke="#222" stroke-width="0.1">1</text>
<line x1="428.1" y1="264.55" x2="429.3" y2="264.55" stroke="#777" stroke-width="0.4"/>
<text x="427.3" y="265.77500000000003" font-size="3.5" text-anchor="end" fill="#222" font-weight="normal" font-style="normal" stroke="#222" stroke-width="0.1">1.5</text>
<line x1="428.1" y1="252.20000000000002" x2="429.3" y2="252.20000000000002" stroke="#777" stroke-width="0.4"/>
<text x="427.3" y="253.425" font-size="3.5" text-anchor="end" fill="#222" font-weight="normal" font-style="normal" stroke="#222" stroke-width="0.1">2</text>
<line x1="428.1" y1="239.85000000000002" x2="429.3" y2="239.85000000000002" stroke="#777" stroke-width="0.4"/>
<text x="427.3" y="241.07500000000002" font-size="3.5" text-anchor="end" fill="#222" font-weight="normal" font-style="normal" stroke="#222" stroke-width="0.1">2.5</text>
<line x1="429.3" y1="301.6" x2="493.6" y2="301.6" stroke="#777" stroke-width="0.6"/>
<rect x="438.00" y="276.90" width="13.00" height="24.70" fill="#e6e6e6" stroke="#888" stroke-width="0.5"/>
<rect x="469.00" y="257.14" width="12.60" height="44.46" fill="#e6e6e6" stroke="#888" stroke-width="0.5"/>
<line x1="475.3" y1="244.7" x2="475.3" y2="270.5" stroke="#666" stroke-width="0.42"/>
<line x1="474.2" y1="244.7" x2="476.40000000000003" y2="244.7" stroke="#666" stroke-width="0.42"/>
<line x1="474.2" y1="270.5" x2="476.40000000000003" y2="270.5" stroke="#666" stroke-width="0.42"/>
<text x="479.8" y="238.6" font-size="4.1" text-anchor="start" fill="#222" font-weight="normal" font-style="normal" stroke="#222" stroke-width="0.04">p=0.075</text>
<text x="444.5" y="308.6" font-size="4.2" text-anchor="middle" fill="#222" font-weight="normal" font-style="normal" stroke="#222" stroke-width="0.06" textLength="11.98" lengthAdjust="spacingAndGlyphs">control</text>
<text x="475.3" y="308.6" font-size="4.2" text-anchor="middle" fill="#222" font-weight="normal" font-style="normal" stroke="#222" stroke-width="0.06" textLength="14.02" lengthAdjust="spacingAndGlyphs">Sorafenib</text>
<text x="475.3" y="313.6" font-size="4.2" text-anchor="middle" fill="#222" font-weight="normal" font-style="normal" stroke="#222" stroke-width="0.06" textLength="7.73" lengthAdjust="spacingAndGlyphs">5 µM</text>
<text x="413.4" y="275" font-size="4.0" text-anchor="middle" fill="#222" font-weight="normal" font-style="normal" stroke="#222" stroke-width="0.06" transform="rotate(-90 413.4 275)">hepcidin-1 mRNA expression</text>
<text x="418.4" y="275" font-size="4.0" text-anchor="middle" fill="#222" font-weight="normal" font-style="normal" stroke="#222" stroke-width="0.06" transform="rotate(-90 418.4 275)">(fold change vs control)</text>
<line x1="31.6" y1="357" x2="31.6" y2="431.7" stroke="#888" stroke-width="0.7"/>
<line x1="30.4" y1="431.7" x2="31.6" y2="431.7" stroke="#888" stroke-width="0.4"/>
<text x="29.4" y="433.15" font-size="4.1" text-anchor="end" fill="#222" font-weight="normal" font-style="normal" stroke="#222" stroke-width="0.08">0</text>
<line x1="30.4" y1="421.09999999999997" x2="31.6" y2="421.09999999999997" stroke="#888" stroke-width="0.4"/>
<text x="29.4" y="422.54999999999995" font-size="4.1" text-anchor="end" fill="#222" font-weight="normal" font-style="normal" stroke="#222" stroke-width="0.08">0.2</text>
<line x1="30.4" y1="410.5" x2="31.6" y2="410.5" stroke="#888" stroke-width="0.4"/>
<text x="29.4" y="411.95" font-size="4.1" text-anchor="end" fill="#222" font-weight="normal" font-style="normal" stroke="#222" stroke-width="0.08">0.4</text>
<line x1="30.4" y1="399.9" x2="31.6" y2="399.9" stroke="#888" stroke-width="0.4"/>
<text x="29.4" y="401.34999999999997" font-size="4.1" text-anchor="end" fill="#222" font-weight="normal" font-style="normal" stroke="#222" stroke-width="0.08">0.6</text>
<line x1="30.4" y1="389.29999999999995" x2="31.6" y2="389.29999999999995" stroke="#888" stroke-width="0.4"/>
<text x="29.4" y="390.74999999999994" font-size="4.1" text-anchor="end" fill="#222" font-weight="normal" font-style="normal" stroke="#222" stroke-width="0.08">0.8</text>
<line x1="30.4" y1="378.7" x2="31.6" y2="378.7" stroke="#888" stroke-width="0.4"/>
<text x="29.4" y="380.15" font-size="4.1" text-anchor="end" fill="#222" font-weight="normal" font-style="normal" stroke="#222" stroke-width="0.08">1</text>
<line x1="30.4" y1="368.09999999999997" x2="31.6" y2="368.09999999999997" stroke="#888" stroke-width="0.4"/>
<text x="29.4" y="369.54999999999995" font-size="4.1" text-anchor="end" fill="#222" font-weight="normal" font-style="normal" stroke="#222" stroke-width="0.08">1.2</text>
<line x1="30.4" y1="357.5" x2="31.6" y2="357.5" stroke="#888" stroke-width="0.4"/>
<text x="29.4" y="358.95" font-size="4.1" text-anchor="end" fill="#222" font-weight="normal" font-style="normal" stroke="#222" stroke-width="0.08">1.4</text>
<line x1="31.6" y1="431.7" x2="80.5" y2="431.7" stroke="#888" stroke-width="0.7"/>
<rect x="37.40" y="378.70" width="10.00" height="53.00" fill="#000" stroke="none" stroke-width="0.5"/>
<rect x="62.00" y="395.66" width="10.00" height="36.04" fill="#000" stroke="none" stroke-width="0.5"/>
<line x1="42.4" y1="363" x2="42.4" y2="379" stroke="#666" stroke-width="0.5"/>
<line x1="67" y1="385" x2="67" y2="396" stroke="#666" stroke-width="0.5"/>
<line x1="66" y1="385" x2="68" y2="385" stroke="#666" stroke-width="0.4"/>
<text x="67" y="384.2" font-size="3.6" text-anchor="middle" fill="#333" font-weight="normal" font-style="normal" stroke="#333" stroke-width="0.16">*</text>
<text x="19.4" y="393" font-size="4.2" text-anchor="middle" fill="#222" font-weight="normal" font-style="normal" stroke="#222" stroke-width="0.04" transform="rotate(-90 19.4 393)">hepcidin-1 mRNA expression (fold change)</text>
<text x="42.8" y="438.3" font-size="4.3" text-anchor="middle" fill="#111" font-weight="normal" font-style="normal" stroke="#111" stroke-width="0.13" textLength="16.73" lengthAdjust="spacingAndGlyphs">wild type</text>
<text x="42.8" y="443.5" font-size="4.3" text-anchor="middle" fill="#111" font-weight="normal" font-style="normal" stroke="#111" stroke-width="0.13" textLength="6.56" lengthAdjust="spacingAndGlyphs">n=7</text>
<text x="67" y="438.3" font-size="4.3" text-anchor="middle" fill="#111" font-weight="normal" font-style="normal" stroke="#111" stroke-width="0.13" textLength="10.57" lengthAdjust="spacingAndGlyphs">Rasa1</text>
<text x="67" y="443.5" font-size="4.3" text-anchor="middle" fill="#111" font-weight="normal" font-style="normal" stroke="#111" stroke-width="0.13" textLength="16.96" lengthAdjust="spacingAndGlyphs">knock-out</text>
<text x="67" y="448.7" font-size="4.3" text-anchor="middle" fill="#111" font-weight="normal" font-style="normal" stroke="#111" stroke-width="0.13" textLength="6.56" lengthAdjust="spacingAndGlyphs">n=9</text>
<line x1="103.5" y1="357" x2="103.5" y2="431.7" stroke="#888" stroke-width="0.7"/>
<line x1="101.3" y1="431.7" x2="103.5" y2="431.7" stroke="#888" stroke-width="0.4"/>
<text x="99.8" y="433.15" font-size="4.1" text-anchor="end" fill="#222" font-weight="normal" font-style="normal" stroke="#222" stroke-width="0.08">0</text>
<line x1="101.3" y1="419.28" x2="103.5" y2="419.28" stroke="#888" stroke-width="0.4"/>
<text x="99.8" y="420.72999999999996" font-size="4.1" text-anchor="end" fill="#222" font-weight="normal" font-style="normal" stroke="#222" stroke-width="0.08">100</text>
<line x1="101.3" y1="406.86" x2="103.5" y2="406.86" stroke="#888" stroke-width="0.4"/>
<text x="99.8" y="408.31" font-size="4.1" text-anchor="end" fill="#222" font-weight="normal" font-style="normal" stroke="#222" stroke-width="0.08">200</text>
<line x1="101.3" y1="394.44" x2="103.5" y2="394.44" stroke="#888" stroke-width="0.4"/>
<text x="99.8" y="395.89" font-size="4.1" text-anchor="end" fill="#222" font-weight="normal" font-style="normal" stroke="#222" stroke-width="0.08">300</text>
<line x1="101.3" y1="382.02" x2="103.5" y2="382.02" stroke="#888" stroke-width="0.4"/>
<text x="99.8" y="383.46999999999997" font-size="4.1" text-anchor="end" fill="#222" font-weight="normal" font-style="normal" stroke="#222" stroke-width="0.08">400</text>
<line x1="101.3" y1="369.59999999999997" x2="103.5" y2="369.59999999999997" stroke="#888" stroke-width="0.4"/>
<text x="99.8" y="371.04999999999995" font-size="4.1" text-anchor="end" fill="#222" font-weight="normal" font-style="normal" stroke="#222" stroke-width="0.08">500</text>
<line x1="101.3" y1="357.18" x2="103.5" y2="357.18" stroke="#888" stroke-width="0.4"/>
<text x="99.8" y="358.63" font-size="4.1" text-anchor="end" fill="#222" font-weight="normal" font-style="normal" stroke="#222" stroke-width="0.08">600</text>
<line x1="103.5" y1="431.7" x2="150" y2="431.7" stroke="#888" stroke-width="0.7"/>
<rect x="110.00" y="401.60" width="9.00" height="30.10" fill="#000" stroke="none" stroke-width="0.5"/>
<rect x="131.40" y="388.00" width="9.00" height="43.70" fill="#000" stroke="none" stroke-width="0.5"/>
<line x1="114.5" y1="391" x2="114.5" y2="402" stroke="#666" stroke-width="0.5"/>
<line x1="113.5" y1="391" x2="115.5" y2="391" stroke="#666" stroke-width="0.4"/>
<line x1="135.9" y1="371" x2="135.9" y2="389" stroke="#666" stroke-width="0.5"/>
<line x1="134.9" y1="371" x2="136.9" y2="371" stroke="#666" stroke-width="0.4"/>
<text x="136" y="367.4" font-size="4.1" text-anchor="start" fill="#222" font-weight="normal" font-style="normal" stroke="#222" stroke-width="0.04">p=0.068</text>
<text x="89.0" y="393" font-size="4.15" text-anchor="middle" fill="#222" font-weight="normal" font-style="normal" stroke="#222" stroke-width="0.04" transform="rotate(-90 89.0 393)">plasma iron (µg/dl)</text>
<text x="114.5" y="438.3" font-size="4.3" text-anchor="middle" fill="#111" font-weight="normal" font-style="normal" stroke="#111" stroke-width="0.13" textLength="16.73" lengthAdjust="spacingAndGlyphs">wild type</text>
<text x="114.5" y="443.5" font-size="4.3" text-anchor="middle" fill="#111" font-weight="normal" font-style="normal" stroke="#111" stroke-width="0.13" textLength="6.56" lengthAdjust="spacingAndGlyphs">n=6</text>
<text x="136.2" y="438.3" font-size="4.3" text-anchor="middle" fill="#111" font-weight="normal" font-style="normal" stroke="#111" stroke-width="0.13" textLength="10.57" lengthAdjust="spacingAndGlyphs">Rasa1</text>
<text x="136.2" y="443.5" font-size="4.3" text-anchor="middle" fill="#111" font-weight="normal" font-style="normal" stroke="#111" stroke-width="0.13" textLength="16.96" lengthAdjust="spacingAndGlyphs">knock-out</text>
<text x="136.2" y="448.7" font-size="4.3" text-anchor="middle" fill="#111" font-weight="normal" font-style="normal" stroke="#111" stroke-width="0.13" textLength="8.72" lengthAdjust="spacingAndGlyphs">n=10</text>
<line x1="177.5" y1="349.6" x2="177.5" y2="431.7" stroke="#888" stroke-width="0.7"/>
<line x1="176.3" y1="431.7" x2="177.5" y2="431.7" stroke="#888" stroke-width="0.4"/>
<text x="175.3" y="433.15" font-size="4.1" text-anchor="end" fill="#222" font-weight="normal" font-style="normal" stroke="#222" stroke-width="0.08">0</text>
<line x1="176.3" y1="418.09" x2="177.5" y2="418.09" stroke="#888" stroke-width="0.4"/>
<text x="175.3" y="419.53999999999996" font-size="4.1" text-anchor="end" fill="#222" font-weight="normal" font-style="normal" stroke="#222" stroke-width="0.08">500</text>
<line x1="176.3" y1="404.47999999999996" x2="177.5" y2="404.47999999999996" stroke="#888" stroke-width="0.4"/>
<text x="175.3" y="405.92999999999995" font-size="4.1" text-anchor="end" fill="#222" font-weight="normal" font-style="normal" stroke="#222" stroke-width="0.08">1000</text>
<line x1="176.3" y1="390.87" x2="177.5" y2="390.87" stroke="#888" stroke-width="0.4"/>
<text x="175.3" y="392.32" font-size="4.1" text-anchor="end" fill="#222" font-weight="normal" font-style="normal" stroke="#222" stroke-width="0.08">1500</text>
<line x1="176.3" y1="377.26" x2="177.5" y2="377.26" stroke="#888" stroke-width="0.4"/>
<text x="175.3" y="378.71" font-size="4.1" text-anchor="end" fill="#222" font-weight="normal" font-style="normal" stroke="#222" stroke-width="0.08">2000</text>
<line x1="176.3" y1="363.65" x2="177.5" y2="363.65" stroke="#888" stroke-width="0.4"/>
<text x="175.3" y="365.09999999999997" font-size="4.1" text-anchor="end" fill="#222" font-weight="normal" font-style="normal" stroke="#222" stroke-width="0.08">2500</text>
<line x1="176.3" y1="350.03999999999996" x2="177.5" y2="350.03999999999996" stroke="#888" stroke-width="0.4"/>
<text x="175.3" y="351.48999999999995" font-size="4.1" text-anchor="end" fill="#222" font-weight="normal" font-style="normal" stroke="#222" stroke-width="0.08">3000</text>
<line x1="177.5" y1="431.7" x2="225" y2="431.7" stroke="#888" stroke-width="0.7"/>
<rect x="184.00" y="373.50" width="9.20" height="58.20" fill="#000" stroke="none" stroke-width="0.5"/>
<rect x="206.60" y="388.60" width="9.40" height="43.10" fill="#000" stroke="none" stroke-width="0.5"/>
<line x1="188.6" y1="358" x2="188.6" y2="374" stroke="#666" stroke-width="0.5"/>
<line x1="187.6" y1="358" x2="189.6" y2="358" stroke="#666" stroke-width="0.4"/>
<line x1="211.3" y1="373" x2="211.3" y2="389" stroke="#666" stroke-width="0.5"/>
<line x1="210.3" y1="373" x2="212.3" y2="373" stroke="#666" stroke-width="0.4"/>
<text x="208" y="370.4" font-size="4.1" text-anchor="start" fill="#222" font-weight="normal" font-style="normal" stroke="#222" stroke-width="0.04">p=0.062</text>
<text x="194" y="346.6" font-size="4.1" text-anchor="start" fill="#222" font-weight="normal" font-style="normal" stroke="#222" stroke-width="0.04">SPLEEN</text>
<text x="162.0" y="389.6" font-size="4.15" text-anchor="middle" fill="#222" font-weight="normal" font-style="normal" stroke="#222" stroke-width="0.04" transform="rotate(-90 162.0 389.6)">iron content (µg/g dry tissue)</text>
<text x="191.2" y="438.3" font-size="4.3" text-anchor="middle" fill="#111" font-weight="normal" font-style="normal" stroke="#111" stroke-width="0.13" textLength="16.73" lengthAdjust="spacingAndGlyphs">wild type</text>
<text x="191.2" y="443.5" font-size="4.3" text-anchor="middle" fill="#111" font-weight="normal" font-style="normal" stroke="#111" stroke-width="0.13" textLength="6.56" lengthAdjust="spacingAndGlyphs">n=7</text>
<text x="215" y="438.3" font-size="4.3" text-anchor="middle" fill="#111" font-weight="normal" font-style="normal" stroke="#111" stroke-width="0.13" textLength="10.57" lengthAdjust="spacingAndGlyphs">Rasa1</text>
<text x="215" y="443.5" font-size="4.3" text-anchor="middle" fill="#111" font-weight="normal" font-style="normal" stroke="#111" stroke-width="0.13" textLength="16.96" lengthAdjust="spacingAndGlyphs">knock-out</text>
<text x="215" y="448.7" font-size="4.3" text-anchor="middle" fill="#111" font-weight="normal" font-style="normal" stroke="#111" stroke-width="0.13" textLength="8.72" lengthAdjust="spacingAndGlyphs">n=10</text>
</svg>
</body>
</html>
